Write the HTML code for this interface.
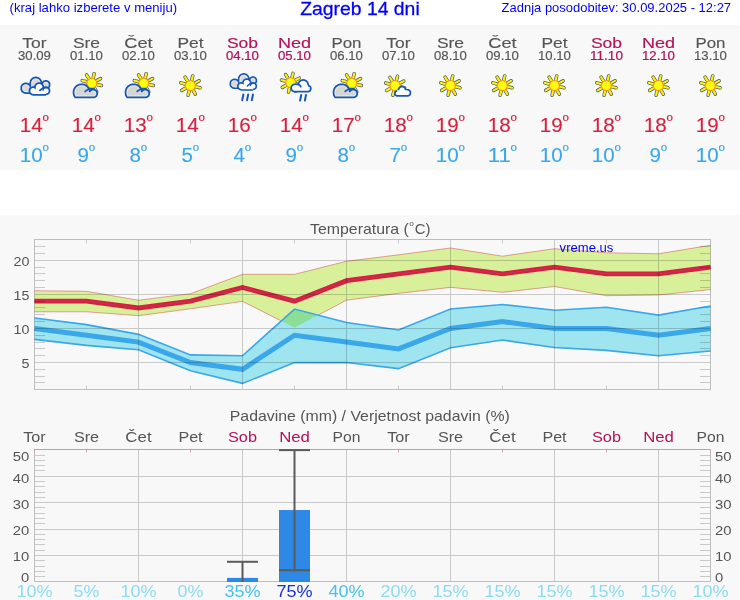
<!DOCTYPE html><html><head><meta charset="utf-8"><title>Zagreb 14 dni</title><style>html,body{margin:0;padding:0;background:#fff;}body{width:740px;height:600px;overflow:hidden;position:relative;font-family:"Liberation Sans", sans-serif;}svg{position:absolute;left:0;top:0;display:block;}</style></head><body>
<svg width="740" height="600" viewBox="0 0 740 600" font-family='"Liberation Sans", sans-serif'>
<rect x="0" y="25" width="740" height="145" fill="#f8f8f8"/>
<rect x="0" y="215" width="740" height="385" fill="#f8f8f8"/>
<text x="9.60" y="12.00" font-size="13.6" fill="#0000ff" textLength="167.5" lengthAdjust="spacingAndGlyphs">(kraj lahko izberete v meniju)</text>
<text x="300.20" y="15.20" font-size="19" fill="#0000ff" textLength="119.5" lengthAdjust="spacingAndGlyphs" stroke="#0000ff" stroke-width="0.3">Zagreb 14 dni</text>
<text x="501.60" y="11.80" font-size="13.6" fill="#0000ff" textLength="229.5" lengthAdjust="spacingAndGlyphs">Zadnja posodobitev: 30.09.2025 - 12:27</text>
<text x="34.50" y="47.80" font-size="15.5" fill="#555555" text-anchor="middle" textLength="24.28" lengthAdjust="spacingAndGlyphs" stroke="#555555" stroke-width="0.15">Tor</text>
<text x="34.50" y="59.80" font-size="12.2" fill="#555555" text-anchor="middle" textLength="32.91" lengthAdjust="spacingAndGlyphs" stroke="#555555" stroke-width="0.15">30.09</text>
<g transform="translate(34.50,0.00) scale(1.0)"><polygon points="-14.10,86.70 -13.90,86.10 -13.70,85.65 -13.50,85.29 -13.30,84.98 -13.10,84.70 -12.90,84.46 -12.70,84.24 -12.50,84.04 -12.30,83.86 -12.10,83.70 -11.90,83.55 -11.70,83.42 -11.50,83.29 -11.30,83.18 -11.10,83.08 -10.90,82.98 -10.70,82.90 -10.50,82.83 -10.30,82.76 -10.10,82.70 -9.90,82.65 -9.70,82.61 -9.50,82.57 -9.30,82.54 -9.10,82.52 -8.90,82.51 -8.70,82.50 -8.50,82.50 -8.30,82.51 -8.10,82.52 -7.90,82.54 -7.70,82.57 -7.50,82.61 -7.30,82.65 -7.10,82.70 -6.90,82.76 -6.70,82.83 -6.50,82.90 -6.30,82.98 -6.10,83.08 -5.90,83.18 -5.70,83.29 -5.50,83.42 -5.30,83.55 -5.10,83.05 -4.90,81.46 -4.70,80.81 -4.50,80.33 -4.30,79.94 -4.10,79.60 -3.90,79.30 -3.70,79.04 -3.50,78.80 -3.30,78.58 -3.10,78.38 -2.90,78.20 -2.70,78.03 -2.50,77.88 -2.30,77.73 -2.10,77.60 -1.90,77.48 -1.70,77.37 -1.50,77.26 -1.30,77.17 -1.10,77.08 -0.90,77.01 -0.70,76.93 -0.50,76.87 -0.30,76.81 -0.10,76.77 0.10,76.72 0.30,76.69 0.50,76.66 0.70,76.63 0.90,76.62 1.10,76.60 1.30,76.60 1.50,76.60 1.70,76.61 1.90,76.62 2.10,76.64 2.30,76.67 2.50,76.70 2.70,76.74 2.90,76.79 3.10,76.84 3.30,76.90 3.50,76.97 3.70,77.04 3.90,77.13 4.10,77.22 4.30,77.31 4.50,77.42 4.70,77.54 4.90,77.66 5.10,77.80 5.30,77.95 5.50,78.11 5.70,78.29 5.90,78.48 6.10,78.69 6.30,78.91 6.50,79.17 6.70,79.45 6.90,79.76 7.10,80.13 7.30,80.56 7.50,81.11 7.70,81.80 7.90,81.56 8.10,81.35 8.30,81.17 8.50,81.00 8.70,80.85 8.90,80.72 9.10,80.60 9.30,80.50 9.50,80.40 9.70,80.32 9.90,80.25 10.10,80.18 10.30,80.13 10.50,80.09 10.70,80.05 10.90,80.03 11.10,80.01 11.30,80.00 11.50,80.00 11.70,80.01 11.90,80.03 12.10,80.05 12.30,80.09 12.50,80.13 12.70,80.18 12.90,80.25 13.10,80.32 13.30,80.40 13.50,80.50 13.70,80.60 13.90,80.72 14.10,80.85 14.30,81.00 14.50,81.17 14.70,81.35 14.90,81.56 15.10,81.80 15.30,82.08 15.50,82.40 15.70,82.80 15.90,83.34 15.90,86.06 15.70,86.60 15.50,87.00 15.30,87.32 15.10,87.60 14.90,87.84 14.70,88.05 14.50,88.23 14.30,88.40 14.10,88.55 13.90,88.68 13.70,88.80 13.50,88.90 13.30,89.00 13.10,89.08 12.90,89.15 12.70,89.22 12.50,89.27 12.30,89.31 12.10,89.35 11.90,89.37 11.70,89.39 11.50,89.40 11.30,93.90 11.10,93.90 10.90,93.90 10.70,93.90 10.50,93.90 10.30,93.90 10.10,93.90 9.90,93.90 9.70,93.90 9.50,93.90 9.30,93.90 9.10,93.90 8.90,93.90 8.70,93.90 8.50,93.90 8.30,93.90 8.10,93.90 7.90,93.90 7.70,93.90 7.50,93.90 7.30,93.90 7.10,93.90 6.90,93.90 6.70,93.90 6.50,93.90 6.30,93.90 6.10,93.90 5.90,93.90 5.70,93.90 5.50,93.90 5.30,93.90 5.10,93.90 4.90,93.90 4.70,93.90 4.50,93.90 4.30,93.90 4.10,93.90 3.90,93.90 3.70,93.90 3.50,93.90 3.30,93.90 3.10,93.90 2.90,93.90 2.70,93.90 2.50,93.90 2.30,93.90 2.10,93.90 1.90,93.90 1.70,93.90 1.50,93.90 1.30,93.90 1.10,93.90 0.90,93.90 0.70,93.90 0.50,93.90 0.30,93.90 0.10,93.90 -0.10,93.90 -0.30,93.90 -0.50,93.90 -0.70,93.90 -0.90,93.90 -1.10,93.90 -1.30,93.90 -1.50,93.90 -1.70,93.90 -1.90,93.90 -2.10,93.90 -2.30,93.90 -2.50,93.90 -2.70,93.90 -2.90,93.90 -3.10,93.90 -3.30,93.90 -3.50,93.90 -3.70,93.90 -3.90,93.90 -4.10,93.90 -4.30,93.90 -4.50,93.90 -4.70,93.90 -4.90,93.90 -5.10,93.90 -5.30,93.90 -5.50,93.90 -5.70,93.90 -5.90,93.90 -6.10,93.90 -6.30,93.90 -6.50,93.90 -6.70,93.90 -6.90,93.90 -7.10,93.90 -7.30,93.90 -7.50,93.90 -7.70,93.90 -7.90,93.90 -8.10,93.90 -8.30,93.90 -8.50,93.90 -8.70,93.90 -8.90,93.89 -9.10,93.88 -9.30,93.86 -9.50,93.83 -9.70,93.79 -9.90,93.75 -10.10,93.70 -10.30,93.64 -10.50,93.57 -10.70,93.50 -10.90,93.42 -11.10,93.32 -11.30,93.22 -11.50,93.11 -11.70,92.98 -11.90,92.85 -12.10,92.70 -12.30,92.54 -12.50,92.36 -12.70,92.16 -12.90,91.94 -13.10,91.70 -13.30,91.42 -13.50,91.11 -13.70,90.75 -13.90,90.30 -14.10,89.70" fill="#1656b8"/><polygon points="-12.35,86.96 -12.15,86.46 -11.95,86.10 -11.75,85.81 -11.55,85.57 -11.35,85.36 -11.14,85.18 -10.94,85.02 -10.74,84.88 -10.54,84.76 -10.34,84.65 -10.14,84.56 -9.94,84.48 -9.74,84.42 -9.54,84.36 -9.34,84.32 -9.14,84.29 -8.94,84.26 -8.74,84.25 -8.54,84.25 -8.33,84.26 -8.13,84.28 -7.93,84.31 -7.73,84.35 -7.53,84.40 -7.33,84.46 -7.13,84.53 -6.93,84.62 -6.73,84.72 -6.53,84.84 -6.33,84.97 -6.13,85.12 -5.93,85.29 -5.72,85.49 -5.52,85.72 -5.32,85.99 -5.12,86.33 -4.92,86.76 -4.72,87.45 -4.52,88.00 -4.32,88.00 -4.12,88.00 -3.92,88.00 -3.72,88.00 -3.52,88.00 -3.32,82.48 -3.11,81.58 -2.91,81.07 -2.71,80.69 -2.51,80.37 -2.31,80.10 -2.11,79.87 -1.91,79.66 -1.71,79.48 -1.51,79.32 -1.31,79.17 -1.11,79.04 -0.91,78.93 -0.71,78.82 -0.51,78.73 -0.30,78.65 -0.10,78.58 0.10,78.52 0.30,78.47 0.50,78.43 0.70,78.40 0.90,78.37 1.10,78.36 1.30,78.35 1.50,78.35 1.70,78.36 1.90,78.38 2.10,78.41 2.31,78.45 2.51,78.49 2.71,78.55 2.91,78.62 3.11,78.69 3.31,78.78 3.51,78.88 3.71,78.99 3.91,79.11 4.11,79.25 4.31,79.40 4.51,79.57 4.71,79.77 4.91,79.99 5.12,80.24 5.32,80.53 5.52,80.88 5.72,81.31 5.92,81.95 6.12,88.00 6.32,88.00 6.52,88.00 6.72,88.00 6.92,88.00 7.12,88.00 7.32,88.00 7.52,88.00 7.73,88.00 7.93,88.00 8.13,88.00 8.33,88.00 8.53,84.02 8.73,83.45 8.93,83.09 9.13,82.82 9.33,82.60 9.53,82.42 9.73,82.27 9.93,82.14 10.13,82.04 10.34,81.95 10.54,81.88 10.74,81.83 10.94,81.79 11.14,81.76 11.34,81.75 11.54,81.75 11.74,81.77 11.94,81.80 12.14,81.84 12.34,81.90 12.54,81.98 12.74,82.07 12.94,82.19 13.15,82.32 13.35,82.48 13.55,82.68 13.75,82.91 13.95,83.21 14.15,83.63 14.15,85.77 13.95,86.19 13.75,86.49 13.55,86.72 13.35,86.92 13.15,87.08 12.94,87.21 12.74,87.33 12.54,87.42 12.34,87.50 12.14,87.56 11.94,87.60 11.74,87.63 11.54,87.65 11.34,92.15 11.14,92.15 10.94,92.15 10.74,92.15 10.54,92.15 10.34,92.15 10.13,92.15 9.93,92.15 9.73,92.15 9.53,92.15 9.33,92.15 9.13,92.15 8.93,92.15 8.73,92.15 8.53,92.15 8.33,92.15 8.13,92.15 7.93,92.15 7.73,92.15 7.52,92.15 7.32,92.15 7.12,92.15 6.92,92.15 6.72,92.15 6.52,92.15 6.32,92.15 6.12,92.15 5.92,92.15 5.72,92.15 5.52,92.15 5.32,92.15 5.12,92.15 4.91,92.15 4.71,92.15 4.51,92.15 4.31,92.15 4.11,92.15 3.91,92.15 3.71,92.15 3.51,92.15 3.31,92.15 3.11,92.15 2.91,92.15 2.71,92.15 2.51,92.15 2.31,92.15 2.10,92.15 1.90,92.15 1.70,92.15 1.50,92.15 1.30,92.15 1.10,92.15 0.90,92.15 0.70,92.15 0.50,92.15 0.30,92.15 0.10,92.15 -0.10,92.15 -0.30,92.15 -0.51,92.15 -0.71,92.15 -0.91,92.15 -1.11,92.15 -1.31,92.15 -1.51,92.15 -1.71,92.15 -1.91,92.15 -2.11,92.15 -2.31,92.15 -2.51,92.15 -2.71,92.15 -2.91,92.15 -3.11,92.15 -3.32,92.15 -3.52,92.15 -3.72,92.15 -3.92,92.15 -4.12,92.15 -4.32,92.15 -4.52,92.15 -4.72,92.15 -4.92,92.15 -5.12,92.15 -5.32,92.15 -5.52,92.15 -5.72,92.15 -5.93,92.15 -6.13,92.15 -6.33,92.15 -6.53,92.15 -6.73,92.15 -6.93,92.15 -7.13,92.15 -7.33,92.15 -7.53,92.15 -7.73,92.15 -7.93,92.15 -8.13,92.15 -8.33,92.15 -8.54,92.15 -8.74,92.15 -8.94,92.14 -9.14,92.11 -9.34,92.08 -9.54,92.04 -9.74,91.98 -9.94,91.92 -10.14,91.84 -10.34,91.75 -10.54,91.64 -10.74,91.52 -10.94,91.38 -11.14,91.22 -11.35,91.04 -11.55,90.83 -11.75,90.59 -11.95,90.30 -12.15,89.94 -12.35,89.44" fill="#f3ecdc"/><polygon points="-11.35,87.13 -11.15,86.71 -10.95,86.41 -10.75,86.18 -10.55,85.98 -10.35,85.82 -10.14,85.69 -9.94,85.57 -9.74,85.48 -9.54,85.40 -9.34,85.34 -9.14,85.30 -8.94,85.27 -8.74,85.25 -8.54,85.25 -8.34,85.26 -8.14,85.29 -7.94,85.33 -7.73,85.38 -7.53,85.45 -7.33,85.54 -7.13,85.64 -6.93,85.77 -6.73,85.92 -6.53,86.10 -6.33,86.32 -6.13,86.59 -5.93,86.95 -5.73,87.53 -5.53,88.00 -5.33,88.00 -5.12,88.00 -4.92,88.00 -4.72,88.00 -4.52,88.00 -4.32,88.00 -4.12,88.00 -3.92,88.00 -3.72,88.00 -3.52,88.00 -3.32,88.00 -3.12,88.00 -2.92,88.00 -2.71,88.00 -2.51,88.00 -2.31,82.53 -2.11,81.74 -1.91,81.30 -1.71,80.97 -1.51,80.70 -1.31,80.48 -1.11,80.28 -0.91,80.12 -0.71,79.97 -0.51,79.85 -0.30,79.74 -0.10,79.65 0.10,79.57 0.30,79.50 0.50,79.45 0.70,79.41 0.90,79.38 1.10,79.36 1.30,79.35 1.50,79.35 1.70,79.37 1.90,79.39 2.10,79.43 2.31,79.48 2.51,79.54 2.71,79.61 2.91,79.69 3.11,79.79 3.31,79.91 3.51,80.05 3.71,80.20 3.91,80.38 4.11,80.59 4.31,80.83 4.51,81.13 4.72,81.51 4.92,82.06 5.12,88.00 5.32,88.00 5.52,88.00 5.72,88.00 5.92,88.00 6.12,88.00 6.32,88.00 6.52,88.00 6.72,88.00 6.92,88.00 7.12,88.00 7.33,88.00 7.53,88.00 7.73,88.00 7.93,88.00 8.13,88.00 8.33,88.00 8.53,88.00 8.73,88.00 8.93,88.00 9.13,88.00 9.33,88.00 9.53,84.13 9.74,83.68 9.94,83.41 10.14,83.21 10.34,83.06 10.54,82.95 10.74,82.87 10.94,82.80 11.14,82.77 11.34,82.75 11.54,82.76 11.74,82.78 11.94,82.83 12.15,82.90 12.35,82.99 12.55,83.12 12.75,83.29 12.95,83.51 13.15,83.84 13.15,85.56 12.95,85.89 12.75,86.11 12.55,86.28 12.35,86.41 12.15,86.50 11.94,86.57 11.74,86.62 11.54,86.64 11.34,91.15 11.14,91.15 10.94,91.15 10.74,91.15 10.54,91.15 10.34,91.15 10.14,91.15 9.94,91.15 9.74,91.15 9.53,91.15 9.33,91.15 9.13,91.15 8.93,91.15 8.73,91.15 8.53,91.15 8.33,91.15 8.13,91.15 7.93,91.15 7.73,91.15 7.53,91.15 7.33,91.15 7.12,91.15 6.92,91.15 6.72,91.15 6.52,91.15 6.32,91.15 6.12,91.15 5.92,91.15 5.72,91.15 5.52,91.15 5.32,91.15 5.12,91.15 4.92,91.15 4.72,91.15 4.51,91.15 4.31,91.15 4.11,91.15 3.91,91.15 3.71,91.15 3.51,91.15 3.31,91.15 3.11,91.15 2.91,91.15 2.71,91.15 2.51,91.15 2.31,91.15 2.10,91.15 1.90,91.15 1.70,91.15 1.50,91.15 1.30,91.15 1.10,91.15 0.90,91.15 0.70,91.15 0.50,91.15 0.30,91.15 0.10,91.15 -0.10,91.15 -0.30,91.15 -0.51,91.15 -0.71,91.15 -0.91,91.15 -1.11,91.15 -1.31,91.15 -1.51,91.15 -1.71,91.15 -1.91,91.15 -2.11,91.15 -2.31,91.15 -2.51,91.15 -2.71,91.15 -2.92,91.15 -3.12,91.15 -3.32,91.15 -3.52,91.15 -3.72,91.15 -3.92,91.15 -4.12,91.15 -4.32,91.15 -4.52,91.15 -4.72,91.15 -4.92,91.15 -5.12,91.15 -5.33,91.15 -5.53,91.15 -5.73,91.15 -5.93,91.15 -6.13,91.15 -6.33,91.15 -6.53,91.15 -6.73,91.15 -6.93,91.15 -7.13,91.15 -7.33,91.15 -7.53,91.15 -7.73,91.15 -7.94,91.15 -8.14,91.15 -8.34,91.15 -8.54,91.15 -8.74,91.15 -8.94,91.13 -9.14,91.10 -9.34,91.06 -9.54,91.00 -9.74,90.92 -9.94,90.83 -10.14,90.71 -10.35,90.58 -10.55,90.42 -10.75,90.22 -10.95,89.99 -11.15,89.69 -11.35,89.27" fill="#d9d9d9"/><polygon points="-6.00,90.90 -5.80,89.56 -5.60,89.02 -5.40,88.62 -5.20,88.30 -5.00,88.03 -4.79,87.80 -4.59,87.59 -4.39,87.41 -4.19,87.24 -3.99,87.10 -3.79,86.97 -3.59,86.85 -3.39,86.75 -3.19,86.66 -2.99,86.58 -2.79,86.51 -2.58,86.46 -2.38,86.41 -2.18,86.37 -1.98,86.34 -1.78,86.32 -1.58,86.30 -1.38,86.30 -1.18,86.31 -0.98,86.32 -0.78,86.34 -0.58,86.37 -0.37,86.27 -0.17,85.60 0.03,85.13 0.23,84.76 0.43,84.45 0.63,84.18 0.83,83.94 1.03,83.73 1.23,83.55 1.43,83.38 1.63,83.22 1.84,83.09 2.04,82.96 2.24,82.85 2.44,82.75 2.64,82.66 2.84,82.58 3.04,82.51 3.24,82.45 3.44,82.39 3.64,82.35 3.84,82.31 4.05,82.29 4.25,82.27 4.45,82.25 4.65,82.25 4.85,82.25 5.05,82.27 5.25,82.29 5.45,82.31 5.65,82.35 5.85,82.39 6.06,82.45 6.26,82.51 6.46,82.58 6.66,82.66 6.86,82.75 7.06,82.85 7.26,82.96 7.46,83.09 7.66,83.22 7.86,83.38 8.06,83.54 8.27,83.73 8.47,83.94 8.67,84.18 8.87,84.45 9.07,84.75 9.27,85.12 9.47,85.59 9.67,86.26 9.87,86.86 10.07,86.78 10.27,86.71 10.48,86.65 10.68,86.60 10.88,86.56 11.08,86.53 11.28,86.51 11.48,86.50 11.68,86.50 11.88,86.51 12.08,86.53 12.28,86.55 12.48,86.59 12.69,86.64 12.89,86.70 13.09,86.77 13.29,86.85 13.49,86.94 13.69,87.04 13.89,87.16 14.09,87.30 14.29,87.45 14.49,87.62 14.69,87.81 14.90,88.04 15.10,88.30 15.30,88.60 15.50,88.98 15.70,89.50 15.90,90.80 15.90,90.80 15.70,92.10 15.50,92.62 15.30,93.00 15.10,93.30 14.90,93.56 14.69,93.79 14.49,93.98 14.29,94.15 14.09,94.30 13.89,94.44 13.69,94.56 13.49,94.66 13.29,94.75 13.09,94.83 12.89,94.90 12.69,94.96 12.48,95.01 12.28,95.05 12.08,95.07 11.88,95.09 11.68,95.10 11.48,95.80 11.28,95.80 11.08,95.80 10.88,95.80 10.68,95.80 10.48,95.80 10.27,95.80 10.07,95.80 9.87,95.80 9.67,95.80 9.47,95.80 9.27,95.80 9.07,95.80 8.87,95.80 8.67,95.80 8.47,95.80 8.27,95.80 8.06,95.80 7.86,95.80 7.66,95.80 7.46,95.80 7.26,95.80 7.06,95.80 6.86,95.80 6.66,95.80 6.46,95.80 6.26,95.80 6.06,95.80 5.85,95.80 5.65,95.80 5.45,95.80 5.25,95.80 5.05,95.80 4.85,95.80 4.65,95.80 4.45,95.80 4.25,95.80 4.05,95.80 3.84,95.80 3.64,95.80 3.44,95.80 3.24,95.80 3.04,95.80 2.84,95.80 2.64,95.80 2.44,95.80 2.24,95.80 2.04,95.80 1.84,95.80 1.63,95.80 1.43,95.80 1.23,95.80 1.03,95.80 0.83,95.80 0.63,95.80 0.43,95.80 0.23,95.80 0.03,95.80 -0.17,95.80 -0.37,95.80 -0.58,95.80 -0.78,95.80 -0.98,95.80 -1.18,95.80 -1.38,95.80 -1.58,95.50 -1.78,95.48 -1.98,95.46 -2.18,95.43 -2.38,95.39 -2.58,95.34 -2.79,95.29 -2.99,95.22 -3.19,95.14 -3.39,95.05 -3.59,94.95 -3.79,94.83 -3.99,94.70 -4.19,94.56 -4.39,94.39 -4.59,94.21 -4.79,94.00 -5.00,93.77 -5.20,93.50 -5.40,93.18 -5.60,92.78 -5.80,92.24 -6.00,90.90" fill="#1656b8"/><polygon points="-4.05,89.85 -3.85,89.44 -3.64,89.14 -3.44,88.91 -3.24,88.72 -3.04,88.57 -2.83,88.44 -2.63,88.33 -2.43,88.24 -2.23,88.17 -2.03,88.12 -1.82,88.08 -1.62,88.06 -1.42,88.05 -1.22,88.06 -1.01,88.08 -0.81,88.11 -0.61,88.16 -0.41,88.23 -0.21,88.31 -0.00,88.42 0.20,88.54 0.40,88.69 0.60,88.87 0.80,89.09 1.01,89.37 1.21,89.75 1.41,86.36 1.61,85.87 1.82,85.52 2.02,85.25 2.22,85.02 2.42,84.83 2.62,84.67 2.83,84.53 3.03,84.41 3.23,84.31 3.43,84.23 3.64,84.15 3.84,84.10 4.04,84.06 4.24,84.02 4.44,84.01 4.65,84.00 4.85,84.01 5.05,84.02 5.25,84.05 5.46,84.10 5.66,84.15 5.86,84.22 6.06,84.31 6.26,84.41 6.47,84.53 6.67,84.66 6.87,84.83 7.07,85.01 7.28,85.24 7.48,85.51 7.68,85.86 7.88,86.34 8.08,91.00 8.29,91.00 8.49,91.00 8.69,91.00 8.89,91.00 9.10,90.32 9.30,89.70 9.50,89.35 9.70,89.10 9.90,88.90 10.11,88.73 10.31,88.60 10.51,88.49 10.71,88.41 10.91,88.34 11.12,88.30 11.32,88.27 11.52,88.25 11.72,88.25 11.93,88.27 12.13,88.31 12.33,88.36 12.53,88.43 12.73,88.52 12.94,88.63 13.14,88.77 13.34,88.94 13.54,89.15 13.75,89.42 13.95,89.80 14.15,90.80 14.15,90.80 13.95,91.80 13.75,92.18 13.54,92.45 13.34,92.66 13.14,92.83 12.94,92.97 12.73,93.08 12.53,93.17 12.33,93.24 12.13,93.29 11.93,93.33 11.72,93.35 11.52,94.05 11.32,94.05 11.12,94.05 10.91,94.05 10.71,94.05 10.51,94.05 10.31,94.05 10.11,94.05 9.90,94.05 9.70,94.05 9.50,94.05 9.30,94.05 9.10,94.05 8.89,94.05 8.69,94.05 8.49,94.05 8.29,94.05 8.08,94.05 7.88,94.05 7.68,94.05 7.48,94.05 7.28,94.05 7.07,94.05 6.87,94.05 6.67,94.05 6.47,94.05 6.26,94.05 6.06,94.05 5.86,94.05 5.66,94.05 5.46,94.05 5.25,94.05 5.05,94.05 4.85,94.05 4.65,94.05 4.44,94.05 4.24,94.05 4.04,94.05 3.84,94.05 3.64,94.05 3.43,94.05 3.23,94.05 3.03,94.05 2.83,94.05 2.62,94.05 2.42,94.05 2.22,94.05 2.02,94.05 1.82,94.05 1.61,94.05 1.41,94.05 1.21,94.05 1.01,94.05 0.80,94.05 0.60,94.05 0.40,94.05 0.20,94.05 -0.00,94.05 -0.21,94.05 -0.41,94.05 -0.61,94.05 -0.81,94.05 -1.01,94.05 -1.22,94.05 -1.42,93.75 -1.62,93.74 -1.82,93.72 -2.03,93.68 -2.23,93.63 -2.43,93.56 -2.63,93.47 -2.83,93.36 -3.04,93.23 -3.24,93.08 -3.44,92.89 -3.64,92.66 -3.85,92.36 -4.05,91.95" fill="#ffffff"/><path d="M5.4,90.4 Q8.8,86.9 12.9,87.6" fill="none" stroke="#1656b8" stroke-width="1.75" stroke-linecap="round"/></g>
<text x="19.78" y="131.90" font-size="19.5" fill="#d6223f" textLength="22.91" lengthAdjust="spacingAndGlyphs" stroke="#d6223f" stroke-width="0.12">14</text>
<text x="42.59" y="120.70" font-size="10.6" fill="#d6223f" textLength="6.42" lengthAdjust="spacingAndGlyphs" stroke="#d6223f" stroke-width="0.2">o</text>
<text x="19.78" y="162.00" font-size="19.5" fill="#3aa7ea" textLength="22.91" lengthAdjust="spacingAndGlyphs" stroke="#3aa7ea" stroke-width="0.12">10</text>
<text x="42.59" y="150.80" font-size="10.6" fill="#3aa7ea" textLength="6.42" lengthAdjust="spacingAndGlyphs" stroke="#3aa7ea" stroke-width="0.2">o</text>
<text x="86.50" y="47.80" font-size="15.5" fill="#555555" text-anchor="middle" textLength="27.18" lengthAdjust="spacingAndGlyphs" stroke="#555555" stroke-width="0.15">Sre</text>
<text x="86.50" y="59.80" font-size="12.2" fill="#555555" text-anchor="middle" textLength="32.91" lengthAdjust="spacingAndGlyphs" stroke="#555555" stroke-width="0.15">01.10</text>
<g transform="translate(91.80,83.30)"><line x1="1.11" y1="-4.46" x2="2.40" y2="-9.61" stroke="#4a4a66" stroke-width="3.5" stroke-linecap="round"/><line x1="4.06" y1="-2.16" x2="8.74" y2="-4.65" stroke="#4a4a66" stroke-width="3.5" stroke-linecap="round"/><line x1="4.48" y1="1.03" x2="9.65" y2="2.23" stroke="#4a4a66" stroke-width="3.5" stroke-linecap="round"/><line x1="2.30" y1="3.98" x2="4.95" y2="8.57" stroke="#4a4a66" stroke-width="3.5" stroke-linecap="round"/><line x1="-1.03" y1="4.48" x2="-2.23" y2="9.65" stroke="#4a4a66" stroke-width="3.5" stroke-linecap="round"/><line x1="-4.02" y1="2.23" x2="-8.66" y2="4.80" stroke="#4a4a66" stroke-width="3.5" stroke-linecap="round"/><line x1="-4.42" y1="-1.27" x2="-9.52" y2="-2.73" stroke="#4a4a66" stroke-width="3.5" stroke-linecap="round"/><line x1="-2.44" y1="-3.90" x2="-5.25" y2="-8.40" stroke="#4a4a66" stroke-width="3.5" stroke-linecap="round"/><line x1="1.11" y1="-4.46" x2="2.40" y2="-9.61" stroke="#f6f600" stroke-width="2.2" stroke-linecap="round"/><line x1="4.06" y1="-2.16" x2="8.74" y2="-4.65" stroke="#f6f600" stroke-width="2.2" stroke-linecap="round"/><line x1="4.48" y1="1.03" x2="9.65" y2="2.23" stroke="#f6f600" stroke-width="2.2" stroke-linecap="round"/><line x1="2.30" y1="3.98" x2="4.95" y2="8.57" stroke="#f6f600" stroke-width="2.2" stroke-linecap="round"/><line x1="-1.03" y1="4.48" x2="-2.23" y2="9.65" stroke="#f6f600" stroke-width="2.2" stroke-linecap="round"/><line x1="-4.02" y1="2.23" x2="-8.66" y2="4.80" stroke="#f6f600" stroke-width="2.2" stroke-linecap="round"/><line x1="-4.42" y1="-1.27" x2="-9.52" y2="-2.73" stroke="#f6f600" stroke-width="2.2" stroke-linecap="round"/><line x1="-2.44" y1="-3.90" x2="-5.25" y2="-8.40" stroke="#f6f600" stroke-width="2.2" stroke-linecap="round"/><circle r="5.00" fill="#ffee00" stroke="#f39a1a" stroke-width="1.1"/><circle r="3.90" fill="#ffff10"/></g><g transform="translate(86.50,0)"><polygon points="-13.90,92.40 -13.70,90.51 -13.50,89.74 -13.30,89.16 -13.10,88.68 -12.90,88.27 -12.70,87.90 -12.49,87.57 -12.29,87.27 -12.09,86.99 -11.89,86.73 -11.69,86.49 -11.49,86.27 -11.29,86.06 -11.09,85.87 -10.89,85.68 -10.69,85.51 -10.49,85.34 -10.29,85.19 -10.09,85.04 -9.88,84.91 -9.68,84.78 -9.48,84.65 -9.28,84.54 -9.08,84.43 -8.88,84.33 -8.68,84.23 -8.48,84.14 -8.28,84.06 -8.08,83.98 -7.88,83.91 -7.68,83.84 -7.47,83.78 -7.27,83.72 -7.07,83.67 -6.87,83.62 -6.67,83.58 -6.47,83.54 -6.27,83.50 -6.07,83.48 -5.87,83.45 -5.67,83.43 -5.47,83.42 -5.27,83.41 -5.07,83.40 -4.86,83.40 -4.66,83.40 -4.46,83.41 -4.26,83.42 -4.06,83.44 -3.86,83.46 -3.66,83.49 -3.46,83.52 -3.26,83.55 -3.06,83.59 -2.86,83.64 -2.66,83.68 -2.46,83.74 -2.25,83.80 -2.05,83.86 -1.85,83.93 -1.65,84.01 -1.45,84.09 -1.25,84.17 -1.05,84.27 -0.85,84.36 -0.65,84.47 -0.45,84.58 -0.25,84.70 -0.05,84.82 0.16,84.95 0.36,85.09 0.56,85.24 0.76,85.40 0.96,85.57 1.16,85.75 1.36,85.93 1.56,86.13 1.76,86.35 1.96,86.58 2.16,86.82 2.36,87.09 2.56,87.37 2.77,87.68 2.97,88.03 3.17,88.41 3.37,88.84 3.57,89.35 3.77,89.78 3.97,89.62 4.17,89.48 4.37,89.36 4.57,89.25 4.77,89.15 4.97,89.06 5.17,88.98 5.38,88.92 5.58,88.86 5.78,88.81 5.98,88.77 6.18,88.74 6.38,88.72 6.58,88.71 6.78,88.70 6.98,88.70 7.18,88.72 7.38,88.74 7.58,88.76 7.79,88.80 7.99,88.85 8.19,88.90 8.39,88.97 8.59,89.05 8.79,89.13 8.99,89.23 9.19,89.34 9.39,89.46 9.59,89.60 9.79,89.75 9.99,89.92 10.19,90.11 10.40,90.32 10.60,90.56 10.80,90.84 11.00,91.17 11.20,91.58 11.40,92.13 11.60,93.50 11.60,93.50 11.40,94.87 11.20,95.42 11.00,95.83 10.80,96.16 10.60,96.44 10.40,96.68 10.19,96.89 9.99,97.08 9.79,97.25 9.59,97.40 9.39,97.54 9.19,97.66 8.99,97.77 8.79,97.87 8.59,97.95 8.39,98.03 8.19,98.10 7.99,98.15 7.79,98.20 7.58,98.24 7.38,98.26 7.18,98.28 6.98,98.30 6.78,98.30 6.58,98.30 6.38,98.30 6.18,98.30 5.98,98.30 5.78,98.30 5.58,98.30 5.38,98.30 5.17,98.30 4.97,98.30 4.77,98.30 4.57,98.30 4.37,98.30 4.17,98.30 3.97,98.30 3.77,98.30 3.57,98.30 3.37,98.30 3.17,98.30 2.97,98.30 2.77,98.30 2.56,98.30 2.36,98.30 2.16,98.30 1.96,98.30 1.76,98.30 1.56,98.30 1.36,98.30 1.16,98.30 0.96,98.30 0.76,98.30 0.56,98.30 0.36,98.30 0.16,98.30 -0.05,98.30 -0.25,98.30 -0.45,98.30 -0.65,98.30 -0.85,98.30 -1.05,98.30 -1.25,98.30 -1.45,98.30 -1.65,98.30 -1.85,98.30 -2.05,98.30 -2.25,98.30 -2.46,98.30 -2.66,98.30 -2.86,98.30 -3.06,98.30 -3.26,98.30 -3.46,98.30 -3.66,98.30 -3.86,98.30 -4.06,98.30 -4.26,98.30 -4.46,98.30 -4.66,98.30 -4.86,98.30 -5.07,98.30 -5.27,98.30 -5.47,98.30 -5.67,98.30 -5.87,98.30 -6.07,98.30 -6.27,98.30 -6.47,98.30 -6.67,98.30 -6.87,98.30 -7.07,98.30 -7.27,98.30 -7.47,98.30 -7.68,98.30 -7.88,98.30 -8.08,98.30 -8.28,98.30 -8.48,98.30 -8.68,98.30 -8.88,98.30 -9.08,98.30 -9.28,98.30 -9.48,98.30 -9.68,98.30 -9.88,98.30 -10.09,98.30 -10.29,98.30 -10.49,98.30 -10.69,98.30 -10.89,98.30 -11.09,98.30 -11.29,98.30 -11.49,98.30 -11.69,98.30 -11.89,98.07 -12.09,97.81 -12.29,97.53 -12.49,97.23 -12.70,96.90 -12.90,96.53 -13.10,96.12 -13.30,95.64 -13.50,95.06 -13.70,94.29 -13.90,92.40" fill="#1656b8"/><polygon points="-12.15,92.40 -11.95,90.71 -11.75,90.03 -11.55,89.51 -11.35,89.09 -11.15,88.73 -10.95,88.41 -10.75,88.12 -10.55,87.86 -10.35,87.62 -10.15,87.40 -9.95,87.20 -9.75,87.01 -9.55,86.84 -9.35,86.68 -9.15,86.53 -8.95,86.39 -8.75,86.26 -8.55,86.14 -8.35,86.02 -8.15,85.92 -7.95,85.82 -7.75,85.73 -7.55,85.65 -7.35,85.58 -7.15,85.51 -6.95,85.45 -6.75,85.39 -6.55,85.34 -6.35,85.30 -6.15,85.26 -5.95,85.23 -5.75,85.20 -5.55,85.18 -5.35,85.16 -5.15,85.15 -4.95,85.15 -4.75,85.15 -4.55,85.16 -4.35,85.17 -4.15,85.19 -3.95,85.21 -3.75,85.24 -3.55,85.28 -3.35,85.32 -3.15,85.36 -2.95,85.42 -2.75,85.48 -2.55,85.54 -2.35,85.61 -2.15,85.69 -1.95,85.78 -1.75,85.87 -1.55,85.97 -1.35,86.08 -1.15,86.20 -0.95,86.32 -0.75,86.46 -0.55,86.60 -0.35,86.76 -0.15,86.92 0.05,87.10 0.25,87.30 0.45,87.51 0.65,87.74 0.85,87.98 1.05,88.26 1.25,88.56 1.45,88.90 1.65,89.29 1.85,89.75 2.05,90.34 2.25,91.20 2.45,92.40 2.65,92.40 2.85,92.40 3.05,92.40 3.25,92.40 3.45,92.40 3.65,92.40 3.85,92.40 4.05,92.18 4.25,91.83 4.45,91.56 4.65,91.34 4.85,91.15 5.05,91.00 5.25,90.87 5.45,90.77 5.65,90.68 5.85,90.60 6.05,90.54 6.25,90.50 6.45,90.47 6.65,90.45 6.85,90.45 7.05,90.46 7.25,90.48 7.45,90.52 7.65,90.57 7.85,90.64 8.05,90.72 8.25,90.82 8.45,90.93 8.65,91.08 8.85,91.24 9.05,91.44 9.25,91.68 9.45,91.99 9.65,92.41 9.85,93.50 9.85,93.50 9.65,94.59 9.45,95.01 9.25,95.32 9.05,95.56 8.85,95.76 8.65,95.92 8.45,96.07 8.25,96.18 8.05,96.28 7.85,96.36 7.65,96.43 7.45,96.48 7.25,96.52 7.05,96.54 6.85,96.55 6.65,96.55 6.45,96.55 6.25,96.55 6.05,96.55 5.85,96.55 5.65,96.55 5.45,96.55 5.25,96.55 5.05,96.55 4.85,96.55 4.65,96.55 4.45,96.55 4.25,96.55 4.05,96.55 3.85,96.55 3.65,96.55 3.45,96.55 3.25,96.55 3.05,96.55 2.85,96.55 2.65,96.55 2.45,96.55 2.25,96.55 2.05,96.55 1.85,96.55 1.65,96.55 1.45,96.55 1.25,96.55 1.05,96.55 0.85,96.55 0.65,96.55 0.45,96.55 0.25,96.55 0.05,96.55 -0.15,96.55 -0.35,96.55 -0.55,96.55 -0.75,96.55 -0.95,96.55 -1.15,96.55 -1.35,96.55 -1.55,96.55 -1.75,96.55 -1.95,96.55 -2.15,96.55 -2.35,96.55 -2.55,96.55 -2.75,96.55 -2.95,96.55 -3.15,96.55 -3.35,96.55 -3.55,96.55 -3.75,96.55 -3.95,96.55 -4.15,96.55 -4.35,96.55 -4.55,96.55 -4.75,96.55 -4.95,96.55 -5.15,96.55 -5.35,96.55 -5.55,96.55 -5.75,96.55 -5.95,96.55 -6.15,96.55 -6.35,96.55 -6.55,96.55 -6.75,96.55 -6.95,96.55 -7.15,96.55 -7.35,96.55 -7.55,96.55 -7.75,96.55 -7.95,96.55 -8.15,96.55 -8.35,96.55 -8.55,96.55 -8.75,96.55 -8.95,96.55 -9.15,96.55 -9.35,96.55 -9.55,96.55 -9.75,96.55 -9.95,96.55 -10.15,96.55 -10.35,96.55 -10.55,96.55 -10.75,96.55 -10.95,96.39 -11.15,96.07 -11.35,95.71 -11.55,95.29 -11.75,94.77 -11.95,94.09 -12.15,92.40" fill="#f3ecdc"/><polygon points="-11.15,92.40 -10.95,90.83 -10.75,90.20 -10.55,89.73 -10.35,89.34 -10.15,89.01 -9.95,88.72 -9.75,88.46 -9.55,88.22 -9.35,88.01 -9.15,87.82 -8.95,87.64 -8.75,87.48 -8.55,87.33 -8.35,87.19 -8.15,87.06 -7.95,86.94 -7.75,86.84 -7.55,86.74 -7.35,86.65 -7.15,86.57 -6.95,86.50 -6.75,86.43 -6.55,86.37 -6.35,86.32 -6.15,86.28 -5.95,86.24 -5.75,86.21 -5.55,86.18 -5.35,86.17 -5.15,86.16 -4.95,86.15 -4.75,86.15 -4.55,86.16 -4.35,86.17 -4.15,86.20 -3.95,86.22 -3.75,86.26 -3.55,86.30 -3.35,86.35 -3.15,86.40 -2.95,86.46 -2.75,86.53 -2.55,86.61 -2.35,86.69 -2.15,86.79 -1.95,86.89 -1.75,87.00 -1.55,87.12 -1.35,87.26 -1.15,87.40 -0.95,87.56 -0.75,87.73 -0.55,87.91 -0.35,88.12 -0.15,88.34 0.05,88.58 0.25,88.86 0.45,89.17 0.65,89.53 0.85,89.95 1.05,90.49 1.25,91.29 1.45,92.40 1.65,92.40 1.85,92.40 2.05,92.40 2.25,92.40 2.45,92.40 2.65,92.40 2.85,92.40 3.05,92.40 3.25,92.40 3.45,92.40 3.65,92.40 3.85,92.40 4.05,92.40 4.25,92.40 4.45,92.40 4.65,92.40 4.85,92.40 5.05,92.40 5.25,92.16 5.45,91.96 5.65,91.80 5.85,91.68 6.05,91.59 6.25,91.53 6.45,91.48 6.65,91.46 6.85,91.45 7.05,91.47 7.25,91.50 7.45,91.56 7.65,91.63 7.85,91.74 8.05,91.88 8.25,92.05 8.45,92.28 8.65,92.62 8.85,93.50 8.85,93.50 8.65,94.38 8.45,94.72 8.25,94.95 8.05,95.12 7.85,95.26 7.65,95.37 7.45,95.44 7.25,95.50 7.05,95.53 6.85,95.55 6.65,95.55 6.45,95.55 6.25,95.55 6.05,95.55 5.85,95.55 5.65,95.55 5.45,95.55 5.25,95.55 5.05,95.55 4.85,95.55 4.65,95.55 4.45,95.55 4.25,95.55 4.05,95.55 3.85,95.55 3.65,95.55 3.45,95.55 3.25,95.55 3.05,95.55 2.85,95.55 2.65,95.55 2.45,95.55 2.25,95.55 2.05,95.55 1.85,95.55 1.65,95.55 1.45,95.55 1.25,95.55 1.05,95.55 0.85,95.55 0.65,95.55 0.45,95.55 0.25,95.55 0.05,95.55 -0.15,95.55 -0.35,95.55 -0.55,95.55 -0.75,95.55 -0.95,95.55 -1.15,95.55 -1.35,95.55 -1.55,95.55 -1.75,95.55 -1.95,95.55 -2.15,95.55 -2.35,95.55 -2.55,95.55 -2.75,95.55 -2.95,95.55 -3.15,95.55 -3.35,95.55 -3.55,95.55 -3.75,95.55 -3.95,95.55 -4.15,95.55 -4.35,95.55 -4.55,95.55 -4.75,95.55 -4.95,95.55 -5.15,95.55 -5.35,95.55 -5.55,95.55 -5.75,95.55 -5.95,95.55 -6.15,95.55 -6.35,95.55 -6.55,95.55 -6.75,95.55 -6.95,95.55 -7.15,95.55 -7.35,95.55 -7.55,95.55 -7.75,95.55 -7.95,95.55 -8.15,95.55 -8.35,95.55 -8.55,95.55 -8.75,95.55 -8.95,95.55 -9.15,95.55 -9.35,95.55 -9.55,95.55 -9.75,95.55 -9.95,95.55 -10.15,95.55 -10.35,95.46 -10.55,95.07 -10.75,94.60 -10.95,93.97 -11.15,92.40" fill="#d6d6d6"/><path d="M-1.3,91.3 Q2.5,87.8 7.7,89.0" fill="none" stroke="#1656b8" stroke-width="1.75" stroke-linecap="round"/></g>
<text x="71.78" y="131.90" font-size="19.5" fill="#d6223f" textLength="22.91" lengthAdjust="spacingAndGlyphs" stroke="#d6223f" stroke-width="0.12">14</text>
<text x="94.59" y="120.70" font-size="10.6" fill="#d6223f" textLength="6.42" lengthAdjust="spacingAndGlyphs" stroke="#d6223f" stroke-width="0.2">o</text>
<text x="77.51" y="162.00" font-size="19.5" fill="#3aa7ea" textLength="11.45" lengthAdjust="spacingAndGlyphs" stroke="#3aa7ea" stroke-width="0.12">9</text>
<text x="88.86" y="150.80" font-size="10.6" fill="#3aa7ea" textLength="6.42" lengthAdjust="spacingAndGlyphs" stroke="#3aa7ea" stroke-width="0.2">o</text>
<text x="138.50" y="47.80" font-size="15.5" fill="#555555" text-anchor="middle" textLength="28.29" lengthAdjust="spacingAndGlyphs" stroke="#555555" stroke-width="0.15">Čet</text>
<text x="138.50" y="59.80" font-size="12.2" fill="#555555" text-anchor="middle" textLength="32.91" lengthAdjust="spacingAndGlyphs" stroke="#555555" stroke-width="0.15">02.10</text>
<g transform="translate(143.80,83.30)"><line x1="1.11" y1="-4.46" x2="2.40" y2="-9.61" stroke="#4a4a66" stroke-width="3.5" stroke-linecap="round"/><line x1="4.06" y1="-2.16" x2="8.74" y2="-4.65" stroke="#4a4a66" stroke-width="3.5" stroke-linecap="round"/><line x1="4.48" y1="1.03" x2="9.65" y2="2.23" stroke="#4a4a66" stroke-width="3.5" stroke-linecap="round"/><line x1="2.30" y1="3.98" x2="4.95" y2="8.57" stroke="#4a4a66" stroke-width="3.5" stroke-linecap="round"/><line x1="-1.03" y1="4.48" x2="-2.23" y2="9.65" stroke="#4a4a66" stroke-width="3.5" stroke-linecap="round"/><line x1="-4.02" y1="2.23" x2="-8.66" y2="4.80" stroke="#4a4a66" stroke-width="3.5" stroke-linecap="round"/><line x1="-4.42" y1="-1.27" x2="-9.52" y2="-2.73" stroke="#4a4a66" stroke-width="3.5" stroke-linecap="round"/><line x1="-2.44" y1="-3.90" x2="-5.25" y2="-8.40" stroke="#4a4a66" stroke-width="3.5" stroke-linecap="round"/><line x1="1.11" y1="-4.46" x2="2.40" y2="-9.61" stroke="#f6f600" stroke-width="2.2" stroke-linecap="round"/><line x1="4.06" y1="-2.16" x2="8.74" y2="-4.65" stroke="#f6f600" stroke-width="2.2" stroke-linecap="round"/><line x1="4.48" y1="1.03" x2="9.65" y2="2.23" stroke="#f6f600" stroke-width="2.2" stroke-linecap="round"/><line x1="2.30" y1="3.98" x2="4.95" y2="8.57" stroke="#f6f600" stroke-width="2.2" stroke-linecap="round"/><line x1="-1.03" y1="4.48" x2="-2.23" y2="9.65" stroke="#f6f600" stroke-width="2.2" stroke-linecap="round"/><line x1="-4.02" y1="2.23" x2="-8.66" y2="4.80" stroke="#f6f600" stroke-width="2.2" stroke-linecap="round"/><line x1="-4.42" y1="-1.27" x2="-9.52" y2="-2.73" stroke="#f6f600" stroke-width="2.2" stroke-linecap="round"/><line x1="-2.44" y1="-3.90" x2="-5.25" y2="-8.40" stroke="#f6f600" stroke-width="2.2" stroke-linecap="round"/><circle r="5.00" fill="#ffee00" stroke="#f39a1a" stroke-width="1.1"/><circle r="3.90" fill="#ffff10"/></g><g transform="translate(138.50,0)"><polygon points="-13.90,92.40 -13.70,90.51 -13.50,89.74 -13.30,89.16 -13.10,88.68 -12.90,88.27 -12.70,87.90 -12.49,87.57 -12.29,87.27 -12.09,86.99 -11.89,86.73 -11.69,86.49 -11.49,86.27 -11.29,86.06 -11.09,85.87 -10.89,85.68 -10.69,85.51 -10.49,85.34 -10.29,85.19 -10.09,85.04 -9.88,84.91 -9.68,84.78 -9.48,84.65 -9.28,84.54 -9.08,84.43 -8.88,84.33 -8.68,84.23 -8.48,84.14 -8.28,84.06 -8.08,83.98 -7.88,83.91 -7.68,83.84 -7.47,83.78 -7.27,83.72 -7.07,83.67 -6.87,83.62 -6.67,83.58 -6.47,83.54 -6.27,83.50 -6.07,83.48 -5.87,83.45 -5.67,83.43 -5.47,83.42 -5.27,83.41 -5.07,83.40 -4.86,83.40 -4.66,83.40 -4.46,83.41 -4.26,83.42 -4.06,83.44 -3.86,83.46 -3.66,83.49 -3.46,83.52 -3.26,83.55 -3.06,83.59 -2.86,83.64 -2.66,83.68 -2.46,83.74 -2.25,83.80 -2.05,83.86 -1.85,83.93 -1.65,84.01 -1.45,84.09 -1.25,84.17 -1.05,84.27 -0.85,84.36 -0.65,84.47 -0.45,84.58 -0.25,84.70 -0.05,84.82 0.16,84.95 0.36,85.09 0.56,85.24 0.76,85.40 0.96,85.57 1.16,85.75 1.36,85.93 1.56,86.13 1.76,86.35 1.96,86.58 2.16,86.82 2.36,87.09 2.56,87.37 2.77,87.68 2.97,88.03 3.17,88.41 3.37,88.84 3.57,89.35 3.77,89.78 3.97,89.62 4.17,89.48 4.37,89.36 4.57,89.25 4.77,89.15 4.97,89.06 5.17,88.98 5.38,88.92 5.58,88.86 5.78,88.81 5.98,88.77 6.18,88.74 6.38,88.72 6.58,88.71 6.78,88.70 6.98,88.70 7.18,88.72 7.38,88.74 7.58,88.76 7.79,88.80 7.99,88.85 8.19,88.90 8.39,88.97 8.59,89.05 8.79,89.13 8.99,89.23 9.19,89.34 9.39,89.46 9.59,89.60 9.79,89.75 9.99,89.92 10.19,90.11 10.40,90.32 10.60,90.56 10.80,90.84 11.00,91.17 11.20,91.58 11.40,92.13 11.60,93.50 11.60,93.50 11.40,94.87 11.20,95.42 11.00,95.83 10.80,96.16 10.60,96.44 10.40,96.68 10.19,96.89 9.99,97.08 9.79,97.25 9.59,97.40 9.39,97.54 9.19,97.66 8.99,97.77 8.79,97.87 8.59,97.95 8.39,98.03 8.19,98.10 7.99,98.15 7.79,98.20 7.58,98.24 7.38,98.26 7.18,98.28 6.98,98.30 6.78,98.30 6.58,98.30 6.38,98.30 6.18,98.30 5.98,98.30 5.78,98.30 5.58,98.30 5.38,98.30 5.17,98.30 4.97,98.30 4.77,98.30 4.57,98.30 4.37,98.30 4.17,98.30 3.97,98.30 3.77,98.30 3.57,98.30 3.37,98.30 3.17,98.30 2.97,98.30 2.77,98.30 2.56,98.30 2.36,98.30 2.16,98.30 1.96,98.30 1.76,98.30 1.56,98.30 1.36,98.30 1.16,98.30 0.96,98.30 0.76,98.30 0.56,98.30 0.36,98.30 0.16,98.30 -0.05,98.30 -0.25,98.30 -0.45,98.30 -0.65,98.30 -0.85,98.30 -1.05,98.30 -1.25,98.30 -1.45,98.30 -1.65,98.30 -1.85,98.30 -2.05,98.30 -2.25,98.30 -2.46,98.30 -2.66,98.30 -2.86,98.30 -3.06,98.30 -3.26,98.30 -3.46,98.30 -3.66,98.30 -3.86,98.30 -4.06,98.30 -4.26,98.30 -4.46,98.30 -4.66,98.30 -4.86,98.30 -5.07,98.30 -5.27,98.30 -5.47,98.30 -5.67,98.30 -5.87,98.30 -6.07,98.30 -6.27,98.30 -6.47,98.30 -6.67,98.30 -6.87,98.30 -7.07,98.30 -7.27,98.30 -7.47,98.30 -7.68,98.30 -7.88,98.30 -8.08,98.30 -8.28,98.30 -8.48,98.30 -8.68,98.30 -8.88,98.30 -9.08,98.30 -9.28,98.30 -9.48,98.30 -9.68,98.30 -9.88,98.30 -10.09,98.30 -10.29,98.30 -10.49,98.30 -10.69,98.30 -10.89,98.30 -11.09,98.30 -11.29,98.30 -11.49,98.30 -11.69,98.30 -11.89,98.07 -12.09,97.81 -12.29,97.53 -12.49,97.23 -12.70,96.90 -12.90,96.53 -13.10,96.12 -13.30,95.64 -13.50,95.06 -13.70,94.29 -13.90,92.40" fill="#1656b8"/><polygon points="-12.15,92.40 -11.95,90.71 -11.75,90.03 -11.55,89.51 -11.35,89.09 -11.15,88.73 -10.95,88.41 -10.75,88.12 -10.55,87.86 -10.35,87.62 -10.15,87.40 -9.95,87.20 -9.75,87.01 -9.55,86.84 -9.35,86.68 -9.15,86.53 -8.95,86.39 -8.75,86.26 -8.55,86.14 -8.35,86.02 -8.15,85.92 -7.95,85.82 -7.75,85.73 -7.55,85.65 -7.35,85.58 -7.15,85.51 -6.95,85.45 -6.75,85.39 -6.55,85.34 -6.35,85.30 -6.15,85.26 -5.95,85.23 -5.75,85.20 -5.55,85.18 -5.35,85.16 -5.15,85.15 -4.95,85.15 -4.75,85.15 -4.55,85.16 -4.35,85.17 -4.15,85.19 -3.95,85.21 -3.75,85.24 -3.55,85.28 -3.35,85.32 -3.15,85.36 -2.95,85.42 -2.75,85.48 -2.55,85.54 -2.35,85.61 -2.15,85.69 -1.95,85.78 -1.75,85.87 -1.55,85.97 -1.35,86.08 -1.15,86.20 -0.95,86.32 -0.75,86.46 -0.55,86.60 -0.35,86.76 -0.15,86.92 0.05,87.10 0.25,87.30 0.45,87.51 0.65,87.74 0.85,87.98 1.05,88.26 1.25,88.56 1.45,88.90 1.65,89.29 1.85,89.75 2.05,90.34 2.25,91.20 2.45,92.40 2.65,92.40 2.85,92.40 3.05,92.40 3.25,92.40 3.45,92.40 3.65,92.40 3.85,92.40 4.05,92.18 4.25,91.83 4.45,91.56 4.65,91.34 4.85,91.15 5.05,91.00 5.25,90.87 5.45,90.77 5.65,90.68 5.85,90.60 6.05,90.54 6.25,90.50 6.45,90.47 6.65,90.45 6.85,90.45 7.05,90.46 7.25,90.48 7.45,90.52 7.65,90.57 7.85,90.64 8.05,90.72 8.25,90.82 8.45,90.93 8.65,91.08 8.85,91.24 9.05,91.44 9.25,91.68 9.45,91.99 9.65,92.41 9.85,93.50 9.85,93.50 9.65,94.59 9.45,95.01 9.25,95.32 9.05,95.56 8.85,95.76 8.65,95.92 8.45,96.07 8.25,96.18 8.05,96.28 7.85,96.36 7.65,96.43 7.45,96.48 7.25,96.52 7.05,96.54 6.85,96.55 6.65,96.55 6.45,96.55 6.25,96.55 6.05,96.55 5.85,96.55 5.65,96.55 5.45,96.55 5.25,96.55 5.05,96.55 4.85,96.55 4.65,96.55 4.45,96.55 4.25,96.55 4.05,96.55 3.85,96.55 3.65,96.55 3.45,96.55 3.25,96.55 3.05,96.55 2.85,96.55 2.65,96.55 2.45,96.55 2.25,96.55 2.05,96.55 1.85,96.55 1.65,96.55 1.45,96.55 1.25,96.55 1.05,96.55 0.85,96.55 0.65,96.55 0.45,96.55 0.25,96.55 0.05,96.55 -0.15,96.55 -0.35,96.55 -0.55,96.55 -0.75,96.55 -0.95,96.55 -1.15,96.55 -1.35,96.55 -1.55,96.55 -1.75,96.55 -1.95,96.55 -2.15,96.55 -2.35,96.55 -2.55,96.55 -2.75,96.55 -2.95,96.55 -3.15,96.55 -3.35,96.55 -3.55,96.55 -3.75,96.55 -3.95,96.55 -4.15,96.55 -4.35,96.55 -4.55,96.55 -4.75,96.55 -4.95,96.55 -5.15,96.55 -5.35,96.55 -5.55,96.55 -5.75,96.55 -5.95,96.55 -6.15,96.55 -6.35,96.55 -6.55,96.55 -6.75,96.55 -6.95,96.55 -7.15,96.55 -7.35,96.55 -7.55,96.55 -7.75,96.55 -7.95,96.55 -8.15,96.55 -8.35,96.55 -8.55,96.55 -8.75,96.55 -8.95,96.55 -9.15,96.55 -9.35,96.55 -9.55,96.55 -9.75,96.55 -9.95,96.55 -10.15,96.55 -10.35,96.55 -10.55,96.55 -10.75,96.55 -10.95,96.39 -11.15,96.07 -11.35,95.71 -11.55,95.29 -11.75,94.77 -11.95,94.09 -12.15,92.40" fill="#f3ecdc"/><polygon points="-11.15,92.40 -10.95,90.83 -10.75,90.20 -10.55,89.73 -10.35,89.34 -10.15,89.01 -9.95,88.72 -9.75,88.46 -9.55,88.22 -9.35,88.01 -9.15,87.82 -8.95,87.64 -8.75,87.48 -8.55,87.33 -8.35,87.19 -8.15,87.06 -7.95,86.94 -7.75,86.84 -7.55,86.74 -7.35,86.65 -7.15,86.57 -6.95,86.50 -6.75,86.43 -6.55,86.37 -6.35,86.32 -6.15,86.28 -5.95,86.24 -5.75,86.21 -5.55,86.18 -5.35,86.17 -5.15,86.16 -4.95,86.15 -4.75,86.15 -4.55,86.16 -4.35,86.17 -4.15,86.20 -3.95,86.22 -3.75,86.26 -3.55,86.30 -3.35,86.35 -3.15,86.40 -2.95,86.46 -2.75,86.53 -2.55,86.61 -2.35,86.69 -2.15,86.79 -1.95,86.89 -1.75,87.00 -1.55,87.12 -1.35,87.26 -1.15,87.40 -0.95,87.56 -0.75,87.73 -0.55,87.91 -0.35,88.12 -0.15,88.34 0.05,88.58 0.25,88.86 0.45,89.17 0.65,89.53 0.85,89.95 1.05,90.49 1.25,91.29 1.45,92.40 1.65,92.40 1.85,92.40 2.05,92.40 2.25,92.40 2.45,92.40 2.65,92.40 2.85,92.40 3.05,92.40 3.25,92.40 3.45,92.40 3.65,92.40 3.85,92.40 4.05,92.40 4.25,92.40 4.45,92.40 4.65,92.40 4.85,92.40 5.05,92.40 5.25,92.16 5.45,91.96 5.65,91.80 5.85,91.68 6.05,91.59 6.25,91.53 6.45,91.48 6.65,91.46 6.85,91.45 7.05,91.47 7.25,91.50 7.45,91.56 7.65,91.63 7.85,91.74 8.05,91.88 8.25,92.05 8.45,92.28 8.65,92.62 8.85,93.50 8.85,93.50 8.65,94.38 8.45,94.72 8.25,94.95 8.05,95.12 7.85,95.26 7.65,95.37 7.45,95.44 7.25,95.50 7.05,95.53 6.85,95.55 6.65,95.55 6.45,95.55 6.25,95.55 6.05,95.55 5.85,95.55 5.65,95.55 5.45,95.55 5.25,95.55 5.05,95.55 4.85,95.55 4.65,95.55 4.45,95.55 4.25,95.55 4.05,95.55 3.85,95.55 3.65,95.55 3.45,95.55 3.25,95.55 3.05,95.55 2.85,95.55 2.65,95.55 2.45,95.55 2.25,95.55 2.05,95.55 1.85,95.55 1.65,95.55 1.45,95.55 1.25,95.55 1.05,95.55 0.85,95.55 0.65,95.55 0.45,95.55 0.25,95.55 0.05,95.55 -0.15,95.55 -0.35,95.55 -0.55,95.55 -0.75,95.55 -0.95,95.55 -1.15,95.55 -1.35,95.55 -1.55,95.55 -1.75,95.55 -1.95,95.55 -2.15,95.55 -2.35,95.55 -2.55,95.55 -2.75,95.55 -2.95,95.55 -3.15,95.55 -3.35,95.55 -3.55,95.55 -3.75,95.55 -3.95,95.55 -4.15,95.55 -4.35,95.55 -4.55,95.55 -4.75,95.55 -4.95,95.55 -5.15,95.55 -5.35,95.55 -5.55,95.55 -5.75,95.55 -5.95,95.55 -6.15,95.55 -6.35,95.55 -6.55,95.55 -6.75,95.55 -6.95,95.55 -7.15,95.55 -7.35,95.55 -7.55,95.55 -7.75,95.55 -7.95,95.55 -8.15,95.55 -8.35,95.55 -8.55,95.55 -8.75,95.55 -8.95,95.55 -9.15,95.55 -9.35,95.55 -9.55,95.55 -9.75,95.55 -9.95,95.55 -10.15,95.55 -10.35,95.46 -10.55,95.07 -10.75,94.60 -10.95,93.97 -11.15,92.40" fill="#d6d6d6"/><path d="M-1.3,91.3 Q2.5,87.8 7.7,89.0" fill="none" stroke="#1656b8" stroke-width="1.75" stroke-linecap="round"/></g>
<text x="123.78" y="131.90" font-size="19.5" fill="#d6223f" textLength="22.91" lengthAdjust="spacingAndGlyphs" stroke="#d6223f" stroke-width="0.12">13</text>
<text x="146.59" y="120.70" font-size="10.6" fill="#d6223f" textLength="6.42" lengthAdjust="spacingAndGlyphs" stroke="#d6223f" stroke-width="0.2">o</text>
<text x="129.51" y="162.00" font-size="19.5" fill="#3aa7ea" textLength="11.45" lengthAdjust="spacingAndGlyphs" stroke="#3aa7ea" stroke-width="0.12">8</text>
<text x="140.86" y="150.80" font-size="10.6" fill="#3aa7ea" textLength="6.42" lengthAdjust="spacingAndGlyphs" stroke="#3aa7ea" stroke-width="0.2">o</text>
<text x="190.50" y="47.80" font-size="15.5" fill="#555555" text-anchor="middle" textLength="26.11" lengthAdjust="spacingAndGlyphs" stroke="#555555" stroke-width="0.15">Pet</text>
<text x="190.50" y="59.80" font-size="12.2" fill="#555555" text-anchor="middle" textLength="32.91" lengthAdjust="spacingAndGlyphs" stroke="#555555" stroke-width="0.15">03.10</text>
<g transform="translate(190.35,85.55)"><line x1="1.11" y1="-4.46" x2="2.40" y2="-9.61" stroke="#4a4a66" stroke-width="3.5" stroke-linecap="round"/><line x1="4.06" y1="-2.16" x2="8.74" y2="-4.65" stroke="#4a4a66" stroke-width="3.5" stroke-linecap="round"/><line x1="4.48" y1="1.03" x2="9.65" y2="2.23" stroke="#4a4a66" stroke-width="3.5" stroke-linecap="round"/><line x1="2.30" y1="3.98" x2="4.95" y2="8.57" stroke="#4a4a66" stroke-width="3.5" stroke-linecap="round"/><line x1="-1.03" y1="4.48" x2="-2.23" y2="9.65" stroke="#4a4a66" stroke-width="3.5" stroke-linecap="round"/><line x1="-4.02" y1="2.23" x2="-8.66" y2="4.80" stroke="#4a4a66" stroke-width="3.5" stroke-linecap="round"/><line x1="-4.42" y1="-1.27" x2="-9.52" y2="-2.73" stroke="#4a4a66" stroke-width="3.5" stroke-linecap="round"/><line x1="-2.44" y1="-3.90" x2="-5.25" y2="-8.40" stroke="#4a4a66" stroke-width="3.5" stroke-linecap="round"/><line x1="1.11" y1="-4.46" x2="2.40" y2="-9.61" stroke="#f6f600" stroke-width="2.2" stroke-linecap="round"/><line x1="4.06" y1="-2.16" x2="8.74" y2="-4.65" stroke="#f6f600" stroke-width="2.2" stroke-linecap="round"/><line x1="4.48" y1="1.03" x2="9.65" y2="2.23" stroke="#f6f600" stroke-width="2.2" stroke-linecap="round"/><line x1="2.30" y1="3.98" x2="4.95" y2="8.57" stroke="#f6f600" stroke-width="2.2" stroke-linecap="round"/><line x1="-1.03" y1="4.48" x2="-2.23" y2="9.65" stroke="#f6f600" stroke-width="2.2" stroke-linecap="round"/><line x1="-4.02" y1="2.23" x2="-8.66" y2="4.80" stroke="#f6f600" stroke-width="2.2" stroke-linecap="round"/><line x1="-4.42" y1="-1.27" x2="-9.52" y2="-2.73" stroke="#f6f600" stroke-width="2.2" stroke-linecap="round"/><line x1="-2.44" y1="-3.90" x2="-5.25" y2="-8.40" stroke="#f6f600" stroke-width="2.2" stroke-linecap="round"/><circle r="5.00" fill="#ffee00" stroke="#f39a1a" stroke-width="1.1"/><circle r="3.90" fill="#ffff10"/></g>
<text x="175.78" y="131.90" font-size="19.5" fill="#d6223f" textLength="22.91" lengthAdjust="spacingAndGlyphs" stroke="#d6223f" stroke-width="0.12">14</text>
<text x="198.59" y="120.70" font-size="10.6" fill="#d6223f" textLength="6.42" lengthAdjust="spacingAndGlyphs" stroke="#d6223f" stroke-width="0.2">o</text>
<text x="181.51" y="162.00" font-size="19.5" fill="#3aa7ea" textLength="11.45" lengthAdjust="spacingAndGlyphs" stroke="#3aa7ea" stroke-width="0.12">5</text>
<text x="192.86" y="150.80" font-size="10.6" fill="#3aa7ea" textLength="6.42" lengthAdjust="spacingAndGlyphs" stroke="#3aa7ea" stroke-width="0.2">o</text>
<text x="242.50" y="47.80" font-size="15.5" fill="#b3125a" text-anchor="middle" textLength="31.21" lengthAdjust="spacingAndGlyphs" stroke="#b3125a" stroke-width="0.15">Sob</text>
<text x="242.50" y="59.80" font-size="12.2" fill="#b3125a" text-anchor="middle" textLength="32.91" lengthAdjust="spacingAndGlyphs" stroke="#b3125a" stroke-width="0.24">04.10</text>
<g transform="translate(242.50,2.63) scale(0.92)"><polygon points="-14.10,86.70 -13.90,86.10 -13.70,85.65 -13.50,85.29 -13.30,84.98 -13.10,84.70 -12.90,84.46 -12.70,84.24 -12.50,84.04 -12.30,83.86 -12.10,83.70 -11.90,83.55 -11.70,83.42 -11.50,83.29 -11.30,83.18 -11.10,83.08 -10.90,82.98 -10.70,82.90 -10.50,82.83 -10.30,82.76 -10.10,82.70 -9.90,82.65 -9.70,82.61 -9.50,82.57 -9.30,82.54 -9.10,82.52 -8.90,82.51 -8.70,82.50 -8.50,82.50 -8.30,82.51 -8.10,82.52 -7.90,82.54 -7.70,82.57 -7.50,82.61 -7.30,82.65 -7.10,82.70 -6.90,82.76 -6.70,82.83 -6.50,82.90 -6.30,82.98 -6.10,83.08 -5.90,83.18 -5.70,83.29 -5.50,83.42 -5.30,83.55 -5.10,83.05 -4.90,81.46 -4.70,80.81 -4.50,80.33 -4.30,79.94 -4.10,79.60 -3.90,79.30 -3.70,79.04 -3.50,78.80 -3.30,78.58 -3.10,78.38 -2.90,78.20 -2.70,78.03 -2.50,77.88 -2.30,77.73 -2.10,77.60 -1.90,77.48 -1.70,77.37 -1.50,77.26 -1.30,77.17 -1.10,77.08 -0.90,77.01 -0.70,76.93 -0.50,76.87 -0.30,76.81 -0.10,76.77 0.10,76.72 0.30,76.69 0.50,76.66 0.70,76.63 0.90,76.62 1.10,76.60 1.30,76.60 1.50,76.60 1.70,76.61 1.90,76.62 2.10,76.64 2.30,76.67 2.50,76.70 2.70,76.74 2.90,76.79 3.10,76.84 3.30,76.90 3.50,76.97 3.70,77.04 3.90,77.13 4.10,77.22 4.30,77.31 4.50,77.42 4.70,77.54 4.90,77.66 5.10,77.80 5.30,77.95 5.50,78.11 5.70,78.29 5.90,78.48 6.10,78.69 6.30,78.91 6.50,79.17 6.70,79.45 6.90,79.76 7.10,80.13 7.30,80.56 7.50,81.11 7.70,81.80 7.90,81.56 8.10,81.35 8.30,81.17 8.50,81.00 8.70,80.85 8.90,80.72 9.10,80.60 9.30,80.50 9.50,80.40 9.70,80.32 9.90,80.25 10.10,80.18 10.30,80.13 10.50,80.09 10.70,80.05 10.90,80.03 11.10,80.01 11.30,80.00 11.50,80.00 11.70,80.01 11.90,80.03 12.10,80.05 12.30,80.09 12.50,80.13 12.70,80.18 12.90,80.25 13.10,80.32 13.30,80.40 13.50,80.50 13.70,80.60 13.90,80.72 14.10,80.85 14.30,81.00 14.50,81.17 14.70,81.35 14.90,81.56 15.10,81.80 15.30,82.08 15.50,82.40 15.70,82.80 15.90,83.34 15.90,86.06 15.70,86.60 15.50,87.00 15.30,87.32 15.10,87.60 14.90,87.84 14.70,88.05 14.50,88.23 14.30,88.40 14.10,88.55 13.90,88.68 13.70,88.80 13.50,88.90 13.30,89.00 13.10,89.08 12.90,89.15 12.70,89.22 12.50,89.27 12.30,89.31 12.10,89.35 11.90,89.37 11.70,89.39 11.50,89.40 11.30,93.90 11.10,93.90 10.90,93.90 10.70,93.90 10.50,93.90 10.30,93.90 10.10,93.90 9.90,93.90 9.70,93.90 9.50,93.90 9.30,93.90 9.10,93.90 8.90,93.90 8.70,93.90 8.50,93.90 8.30,93.90 8.10,93.90 7.90,93.90 7.70,93.90 7.50,93.90 7.30,93.90 7.10,93.90 6.90,93.90 6.70,93.90 6.50,93.90 6.30,93.90 6.10,93.90 5.90,93.90 5.70,93.90 5.50,93.90 5.30,93.90 5.10,93.90 4.90,93.90 4.70,93.90 4.50,93.90 4.30,93.90 4.10,93.90 3.90,93.90 3.70,93.90 3.50,93.90 3.30,93.90 3.10,93.90 2.90,93.90 2.70,93.90 2.50,93.90 2.30,93.90 2.10,93.90 1.90,93.90 1.70,93.90 1.50,93.90 1.30,93.90 1.10,93.90 0.90,93.90 0.70,93.90 0.50,93.90 0.30,93.90 0.10,93.90 -0.10,93.90 -0.30,93.90 -0.50,93.90 -0.70,93.90 -0.90,93.90 -1.10,93.90 -1.30,93.90 -1.50,93.90 -1.70,93.90 -1.90,93.90 -2.10,93.90 -2.30,93.90 -2.50,93.90 -2.70,93.90 -2.90,93.90 -3.10,93.90 -3.30,93.90 -3.50,93.90 -3.70,93.90 -3.90,93.90 -4.10,93.90 -4.30,93.90 -4.50,93.90 -4.70,93.90 -4.90,93.90 -5.10,93.90 -5.30,93.90 -5.50,93.90 -5.70,93.90 -5.90,93.90 -6.10,93.90 -6.30,93.90 -6.50,93.90 -6.70,93.90 -6.90,93.90 -7.10,93.90 -7.30,93.90 -7.50,93.90 -7.70,93.90 -7.90,93.90 -8.10,93.90 -8.30,93.90 -8.50,93.90 -8.70,93.90 -8.90,93.89 -9.10,93.88 -9.30,93.86 -9.50,93.83 -9.70,93.79 -9.90,93.75 -10.10,93.70 -10.30,93.64 -10.50,93.57 -10.70,93.50 -10.90,93.42 -11.10,93.32 -11.30,93.22 -11.50,93.11 -11.70,92.98 -11.90,92.85 -12.10,92.70 -12.30,92.54 -12.50,92.36 -12.70,92.16 -12.90,91.94 -13.10,91.70 -13.30,91.42 -13.50,91.11 -13.70,90.75 -13.90,90.30 -14.10,89.70" fill="#1656b8"/><polygon points="-12.35,86.96 -12.15,86.46 -11.95,86.10 -11.75,85.81 -11.55,85.57 -11.35,85.36 -11.14,85.18 -10.94,85.02 -10.74,84.88 -10.54,84.76 -10.34,84.65 -10.14,84.56 -9.94,84.48 -9.74,84.42 -9.54,84.36 -9.34,84.32 -9.14,84.29 -8.94,84.26 -8.74,84.25 -8.54,84.25 -8.33,84.26 -8.13,84.28 -7.93,84.31 -7.73,84.35 -7.53,84.40 -7.33,84.46 -7.13,84.53 -6.93,84.62 -6.73,84.72 -6.53,84.84 -6.33,84.97 -6.13,85.12 -5.93,85.29 -5.72,85.49 -5.52,85.72 -5.32,85.99 -5.12,86.33 -4.92,86.76 -4.72,87.45 -4.52,88.00 -4.32,88.00 -4.12,88.00 -3.92,88.00 -3.72,88.00 -3.52,88.00 -3.32,82.48 -3.11,81.58 -2.91,81.07 -2.71,80.69 -2.51,80.37 -2.31,80.10 -2.11,79.87 -1.91,79.66 -1.71,79.48 -1.51,79.32 -1.31,79.17 -1.11,79.04 -0.91,78.93 -0.71,78.82 -0.51,78.73 -0.30,78.65 -0.10,78.58 0.10,78.52 0.30,78.47 0.50,78.43 0.70,78.40 0.90,78.37 1.10,78.36 1.30,78.35 1.50,78.35 1.70,78.36 1.90,78.38 2.10,78.41 2.31,78.45 2.51,78.49 2.71,78.55 2.91,78.62 3.11,78.69 3.31,78.78 3.51,78.88 3.71,78.99 3.91,79.11 4.11,79.25 4.31,79.40 4.51,79.57 4.71,79.77 4.91,79.99 5.12,80.24 5.32,80.53 5.52,80.88 5.72,81.31 5.92,81.95 6.12,88.00 6.32,88.00 6.52,88.00 6.72,88.00 6.92,88.00 7.12,88.00 7.32,88.00 7.52,88.00 7.73,88.00 7.93,88.00 8.13,88.00 8.33,88.00 8.53,84.02 8.73,83.45 8.93,83.09 9.13,82.82 9.33,82.60 9.53,82.42 9.73,82.27 9.93,82.14 10.13,82.04 10.34,81.95 10.54,81.88 10.74,81.83 10.94,81.79 11.14,81.76 11.34,81.75 11.54,81.75 11.74,81.77 11.94,81.80 12.14,81.84 12.34,81.90 12.54,81.98 12.74,82.07 12.94,82.19 13.15,82.32 13.35,82.48 13.55,82.68 13.75,82.91 13.95,83.21 14.15,83.63 14.15,85.77 13.95,86.19 13.75,86.49 13.55,86.72 13.35,86.92 13.15,87.08 12.94,87.21 12.74,87.33 12.54,87.42 12.34,87.50 12.14,87.56 11.94,87.60 11.74,87.63 11.54,87.65 11.34,92.15 11.14,92.15 10.94,92.15 10.74,92.15 10.54,92.15 10.34,92.15 10.13,92.15 9.93,92.15 9.73,92.15 9.53,92.15 9.33,92.15 9.13,92.15 8.93,92.15 8.73,92.15 8.53,92.15 8.33,92.15 8.13,92.15 7.93,92.15 7.73,92.15 7.52,92.15 7.32,92.15 7.12,92.15 6.92,92.15 6.72,92.15 6.52,92.15 6.32,92.15 6.12,92.15 5.92,92.15 5.72,92.15 5.52,92.15 5.32,92.15 5.12,92.15 4.91,92.15 4.71,92.15 4.51,92.15 4.31,92.15 4.11,92.15 3.91,92.15 3.71,92.15 3.51,92.15 3.31,92.15 3.11,92.15 2.91,92.15 2.71,92.15 2.51,92.15 2.31,92.15 2.10,92.15 1.90,92.15 1.70,92.15 1.50,92.15 1.30,92.15 1.10,92.15 0.90,92.15 0.70,92.15 0.50,92.15 0.30,92.15 0.10,92.15 -0.10,92.15 -0.30,92.15 -0.51,92.15 -0.71,92.15 -0.91,92.15 -1.11,92.15 -1.31,92.15 -1.51,92.15 -1.71,92.15 -1.91,92.15 -2.11,92.15 -2.31,92.15 -2.51,92.15 -2.71,92.15 -2.91,92.15 -3.11,92.15 -3.32,92.15 -3.52,92.15 -3.72,92.15 -3.92,92.15 -4.12,92.15 -4.32,92.15 -4.52,92.15 -4.72,92.15 -4.92,92.15 -5.12,92.15 -5.32,92.15 -5.52,92.15 -5.72,92.15 -5.93,92.15 -6.13,92.15 -6.33,92.15 -6.53,92.15 -6.73,92.15 -6.93,92.15 -7.13,92.15 -7.33,92.15 -7.53,92.15 -7.73,92.15 -7.93,92.15 -8.13,92.15 -8.33,92.15 -8.54,92.15 -8.74,92.15 -8.94,92.14 -9.14,92.11 -9.34,92.08 -9.54,92.04 -9.74,91.98 -9.94,91.92 -10.14,91.84 -10.34,91.75 -10.54,91.64 -10.74,91.52 -10.94,91.38 -11.14,91.22 -11.35,91.04 -11.55,90.83 -11.75,90.59 -11.95,90.30 -12.15,89.94 -12.35,89.44" fill="#f3ecdc"/><polygon points="-11.35,87.13 -11.15,86.71 -10.95,86.41 -10.75,86.18 -10.55,85.98 -10.35,85.82 -10.14,85.69 -9.94,85.57 -9.74,85.48 -9.54,85.40 -9.34,85.34 -9.14,85.30 -8.94,85.27 -8.74,85.25 -8.54,85.25 -8.34,85.26 -8.14,85.29 -7.94,85.33 -7.73,85.38 -7.53,85.45 -7.33,85.54 -7.13,85.64 -6.93,85.77 -6.73,85.92 -6.53,86.10 -6.33,86.32 -6.13,86.59 -5.93,86.95 -5.73,87.53 -5.53,88.00 -5.33,88.00 -5.12,88.00 -4.92,88.00 -4.72,88.00 -4.52,88.00 -4.32,88.00 -4.12,88.00 -3.92,88.00 -3.72,88.00 -3.52,88.00 -3.32,88.00 -3.12,88.00 -2.92,88.00 -2.71,88.00 -2.51,88.00 -2.31,82.53 -2.11,81.74 -1.91,81.30 -1.71,80.97 -1.51,80.70 -1.31,80.48 -1.11,80.28 -0.91,80.12 -0.71,79.97 -0.51,79.85 -0.30,79.74 -0.10,79.65 0.10,79.57 0.30,79.50 0.50,79.45 0.70,79.41 0.90,79.38 1.10,79.36 1.30,79.35 1.50,79.35 1.70,79.37 1.90,79.39 2.10,79.43 2.31,79.48 2.51,79.54 2.71,79.61 2.91,79.69 3.11,79.79 3.31,79.91 3.51,80.05 3.71,80.20 3.91,80.38 4.11,80.59 4.31,80.83 4.51,81.13 4.72,81.51 4.92,82.06 5.12,88.00 5.32,88.00 5.52,88.00 5.72,88.00 5.92,88.00 6.12,88.00 6.32,88.00 6.52,88.00 6.72,88.00 6.92,88.00 7.12,88.00 7.33,88.00 7.53,88.00 7.73,88.00 7.93,88.00 8.13,88.00 8.33,88.00 8.53,88.00 8.73,88.00 8.93,88.00 9.13,88.00 9.33,88.00 9.53,84.13 9.74,83.68 9.94,83.41 10.14,83.21 10.34,83.06 10.54,82.95 10.74,82.87 10.94,82.80 11.14,82.77 11.34,82.75 11.54,82.76 11.74,82.78 11.94,82.83 12.15,82.90 12.35,82.99 12.55,83.12 12.75,83.29 12.95,83.51 13.15,83.84 13.15,85.56 12.95,85.89 12.75,86.11 12.55,86.28 12.35,86.41 12.15,86.50 11.94,86.57 11.74,86.62 11.54,86.64 11.34,91.15 11.14,91.15 10.94,91.15 10.74,91.15 10.54,91.15 10.34,91.15 10.14,91.15 9.94,91.15 9.74,91.15 9.53,91.15 9.33,91.15 9.13,91.15 8.93,91.15 8.73,91.15 8.53,91.15 8.33,91.15 8.13,91.15 7.93,91.15 7.73,91.15 7.53,91.15 7.33,91.15 7.12,91.15 6.92,91.15 6.72,91.15 6.52,91.15 6.32,91.15 6.12,91.15 5.92,91.15 5.72,91.15 5.52,91.15 5.32,91.15 5.12,91.15 4.92,91.15 4.72,91.15 4.51,91.15 4.31,91.15 4.11,91.15 3.91,91.15 3.71,91.15 3.51,91.15 3.31,91.15 3.11,91.15 2.91,91.15 2.71,91.15 2.51,91.15 2.31,91.15 2.10,91.15 1.90,91.15 1.70,91.15 1.50,91.15 1.30,91.15 1.10,91.15 0.90,91.15 0.70,91.15 0.50,91.15 0.30,91.15 0.10,91.15 -0.10,91.15 -0.30,91.15 -0.51,91.15 -0.71,91.15 -0.91,91.15 -1.11,91.15 -1.31,91.15 -1.51,91.15 -1.71,91.15 -1.91,91.15 -2.11,91.15 -2.31,91.15 -2.51,91.15 -2.71,91.15 -2.92,91.15 -3.12,91.15 -3.32,91.15 -3.52,91.15 -3.72,91.15 -3.92,91.15 -4.12,91.15 -4.32,91.15 -4.52,91.15 -4.72,91.15 -4.92,91.15 -5.12,91.15 -5.33,91.15 -5.53,91.15 -5.73,91.15 -5.93,91.15 -6.13,91.15 -6.33,91.15 -6.53,91.15 -6.73,91.15 -6.93,91.15 -7.13,91.15 -7.33,91.15 -7.53,91.15 -7.73,91.15 -7.94,91.15 -8.14,91.15 -8.34,91.15 -8.54,91.15 -8.74,91.15 -8.94,91.13 -9.14,91.10 -9.34,91.06 -9.54,91.00 -9.74,90.92 -9.94,90.83 -10.14,90.71 -10.35,90.58 -10.55,90.42 -10.75,90.22 -10.95,89.99 -11.15,89.69 -11.35,89.27" fill="#d9d9d9"/><polygon points="-6.00,90.90 -5.80,89.56 -5.60,89.02 -5.40,88.62 -5.20,88.30 -5.00,88.03 -4.79,87.80 -4.59,87.59 -4.39,87.41 -4.19,87.24 -3.99,87.10 -3.79,86.97 -3.59,86.85 -3.39,86.75 -3.19,86.66 -2.99,86.58 -2.79,86.51 -2.58,86.46 -2.38,86.41 -2.18,86.37 -1.98,86.34 -1.78,86.32 -1.58,86.30 -1.38,86.30 -1.18,86.31 -0.98,86.32 -0.78,86.34 -0.58,86.37 -0.37,86.27 -0.17,85.60 0.03,85.13 0.23,84.76 0.43,84.45 0.63,84.18 0.83,83.94 1.03,83.73 1.23,83.55 1.43,83.38 1.63,83.22 1.84,83.09 2.04,82.96 2.24,82.85 2.44,82.75 2.64,82.66 2.84,82.58 3.04,82.51 3.24,82.45 3.44,82.39 3.64,82.35 3.84,82.31 4.05,82.29 4.25,82.27 4.45,82.25 4.65,82.25 4.85,82.25 5.05,82.27 5.25,82.29 5.45,82.31 5.65,82.35 5.85,82.39 6.06,82.45 6.26,82.51 6.46,82.58 6.66,82.66 6.86,82.75 7.06,82.85 7.26,82.96 7.46,83.09 7.66,83.22 7.86,83.38 8.06,83.54 8.27,83.73 8.47,83.94 8.67,84.18 8.87,84.45 9.07,84.75 9.27,85.12 9.47,85.59 9.67,86.26 9.87,86.86 10.07,86.78 10.27,86.71 10.48,86.65 10.68,86.60 10.88,86.56 11.08,86.53 11.28,86.51 11.48,86.50 11.68,86.50 11.88,86.51 12.08,86.53 12.28,86.55 12.48,86.59 12.69,86.64 12.89,86.70 13.09,86.77 13.29,86.85 13.49,86.94 13.69,87.04 13.89,87.16 14.09,87.30 14.29,87.45 14.49,87.62 14.69,87.81 14.90,88.04 15.10,88.30 15.30,88.60 15.50,88.98 15.70,89.50 15.90,90.80 15.90,90.80 15.70,92.10 15.50,92.62 15.30,93.00 15.10,93.30 14.90,93.56 14.69,93.79 14.49,93.98 14.29,94.15 14.09,94.30 13.89,94.44 13.69,94.56 13.49,94.66 13.29,94.75 13.09,94.83 12.89,94.90 12.69,94.96 12.48,95.01 12.28,95.05 12.08,95.07 11.88,95.09 11.68,95.10 11.48,95.80 11.28,95.80 11.08,95.80 10.88,95.80 10.68,95.80 10.48,95.80 10.27,95.80 10.07,95.80 9.87,95.80 9.67,95.80 9.47,95.80 9.27,95.80 9.07,95.80 8.87,95.80 8.67,95.80 8.47,95.80 8.27,95.80 8.06,95.80 7.86,95.80 7.66,95.80 7.46,95.80 7.26,95.80 7.06,95.80 6.86,95.80 6.66,95.80 6.46,95.80 6.26,95.80 6.06,95.80 5.85,95.80 5.65,95.80 5.45,95.80 5.25,95.80 5.05,95.80 4.85,95.80 4.65,95.80 4.45,95.80 4.25,95.80 4.05,95.80 3.84,95.80 3.64,95.80 3.44,95.80 3.24,95.80 3.04,95.80 2.84,95.80 2.64,95.80 2.44,95.80 2.24,95.80 2.04,95.80 1.84,95.80 1.63,95.80 1.43,95.80 1.23,95.80 1.03,95.80 0.83,95.80 0.63,95.80 0.43,95.80 0.23,95.80 0.03,95.80 -0.17,95.80 -0.37,95.80 -0.58,95.80 -0.78,95.80 -0.98,95.80 -1.18,95.80 -1.38,95.80 -1.58,95.50 -1.78,95.48 -1.98,95.46 -2.18,95.43 -2.38,95.39 -2.58,95.34 -2.79,95.29 -2.99,95.22 -3.19,95.14 -3.39,95.05 -3.59,94.95 -3.79,94.83 -3.99,94.70 -4.19,94.56 -4.39,94.39 -4.59,94.21 -4.79,94.00 -5.00,93.77 -5.20,93.50 -5.40,93.18 -5.60,92.78 -5.80,92.24 -6.00,90.90" fill="#1656b8"/><polygon points="-4.05,89.85 -3.85,89.44 -3.64,89.14 -3.44,88.91 -3.24,88.72 -3.04,88.57 -2.83,88.44 -2.63,88.33 -2.43,88.24 -2.23,88.17 -2.03,88.12 -1.82,88.08 -1.62,88.06 -1.42,88.05 -1.22,88.06 -1.01,88.08 -0.81,88.11 -0.61,88.16 -0.41,88.23 -0.21,88.31 -0.00,88.42 0.20,88.54 0.40,88.69 0.60,88.87 0.80,89.09 1.01,89.37 1.21,89.75 1.41,86.36 1.61,85.87 1.82,85.52 2.02,85.25 2.22,85.02 2.42,84.83 2.62,84.67 2.83,84.53 3.03,84.41 3.23,84.31 3.43,84.23 3.64,84.15 3.84,84.10 4.04,84.06 4.24,84.02 4.44,84.01 4.65,84.00 4.85,84.01 5.05,84.02 5.25,84.05 5.46,84.10 5.66,84.15 5.86,84.22 6.06,84.31 6.26,84.41 6.47,84.53 6.67,84.66 6.87,84.83 7.07,85.01 7.28,85.24 7.48,85.51 7.68,85.86 7.88,86.34 8.08,91.00 8.29,91.00 8.49,91.00 8.69,91.00 8.89,91.00 9.10,90.32 9.30,89.70 9.50,89.35 9.70,89.10 9.90,88.90 10.11,88.73 10.31,88.60 10.51,88.49 10.71,88.41 10.91,88.34 11.12,88.30 11.32,88.27 11.52,88.25 11.72,88.25 11.93,88.27 12.13,88.31 12.33,88.36 12.53,88.43 12.73,88.52 12.94,88.63 13.14,88.77 13.34,88.94 13.54,89.15 13.75,89.42 13.95,89.80 14.15,90.80 14.15,90.80 13.95,91.80 13.75,92.18 13.54,92.45 13.34,92.66 13.14,92.83 12.94,92.97 12.73,93.08 12.53,93.17 12.33,93.24 12.13,93.29 11.93,93.33 11.72,93.35 11.52,94.05 11.32,94.05 11.12,94.05 10.91,94.05 10.71,94.05 10.51,94.05 10.31,94.05 10.11,94.05 9.90,94.05 9.70,94.05 9.50,94.05 9.30,94.05 9.10,94.05 8.89,94.05 8.69,94.05 8.49,94.05 8.29,94.05 8.08,94.05 7.88,94.05 7.68,94.05 7.48,94.05 7.28,94.05 7.07,94.05 6.87,94.05 6.67,94.05 6.47,94.05 6.26,94.05 6.06,94.05 5.86,94.05 5.66,94.05 5.46,94.05 5.25,94.05 5.05,94.05 4.85,94.05 4.65,94.05 4.44,94.05 4.24,94.05 4.04,94.05 3.84,94.05 3.64,94.05 3.43,94.05 3.23,94.05 3.03,94.05 2.83,94.05 2.62,94.05 2.42,94.05 2.22,94.05 2.02,94.05 1.82,94.05 1.61,94.05 1.41,94.05 1.21,94.05 1.01,94.05 0.80,94.05 0.60,94.05 0.40,94.05 0.20,94.05 -0.00,94.05 -0.21,94.05 -0.41,94.05 -0.61,94.05 -0.81,94.05 -1.01,94.05 -1.22,94.05 -1.42,93.75 -1.62,93.74 -1.82,93.72 -2.03,93.68 -2.23,93.63 -2.43,93.56 -2.63,93.47 -2.83,93.36 -3.04,93.23 -3.24,93.08 -3.44,92.89 -3.64,92.66 -3.85,92.36 -4.05,91.95" fill="#ffffff"/><path d="M5.4,90.4 Q8.8,86.9 12.9,87.6" fill="none" stroke="#1656b8" stroke-width="1.75" stroke-linecap="round"/></g><line x1="243.40" y1="94.40" x2="242.20" y2="100.20" stroke="#1656b8" stroke-width="2.0" stroke-linecap="round"/><line x1="248.20" y1="94.40" x2="247.00" y2="100.20" stroke="#1656b8" stroke-width="2.0" stroke-linecap="round"/><line x1="253.00" y1="94.40" x2="251.80" y2="100.20" stroke="#1656b8" stroke-width="2.0" stroke-linecap="round"/>
<text x="227.78" y="131.90" font-size="19.5" fill="#d6223f" textLength="22.91" lengthAdjust="spacingAndGlyphs" stroke="#d6223f" stroke-width="0.12">16</text>
<text x="250.59" y="120.70" font-size="10.6" fill="#d6223f" textLength="6.42" lengthAdjust="spacingAndGlyphs" stroke="#d6223f" stroke-width="0.2">o</text>
<text x="233.51" y="162.00" font-size="19.5" fill="#3aa7ea" textLength="11.45" lengthAdjust="spacingAndGlyphs" stroke="#3aa7ea" stroke-width="0.12">4</text>
<text x="244.86" y="150.80" font-size="10.6" fill="#3aa7ea" textLength="6.42" lengthAdjust="spacingAndGlyphs" stroke="#3aa7ea" stroke-width="0.2">o</text>
<text x="294.50" y="47.80" font-size="15.5" fill="#b3125a" text-anchor="middle" textLength="33.14" lengthAdjust="spacingAndGlyphs" stroke="#b3125a" stroke-width="0.15">Ned</text>
<text x="294.50" y="59.80" font-size="12.2" fill="#b3125a" text-anchor="middle" textLength="32.91" lengthAdjust="spacingAndGlyphs" stroke="#b3125a" stroke-width="0.24">05.10</text>
<g transform="translate(290.70,82.70)"><line x1="1.11" y1="-4.46" x2="2.32" y2="-9.31" stroke="#4a4a66" stroke-width="3.5" stroke-linecap="round"/><line x1="4.06" y1="-2.16" x2="8.48" y2="-4.51" stroke="#4a4a66" stroke-width="3.5" stroke-linecap="round"/><line x1="4.48" y1="1.03" x2="9.35" y2="2.16" stroke="#4a4a66" stroke-width="3.5" stroke-linecap="round"/><line x1="2.30" y1="3.98" x2="4.80" y2="8.31" stroke="#4a4a66" stroke-width="3.5" stroke-linecap="round"/><line x1="-1.03" y1="4.48" x2="-2.16" y2="9.35" stroke="#4a4a66" stroke-width="3.5" stroke-linecap="round"/><line x1="-4.02" y1="2.23" x2="-8.40" y2="4.65" stroke="#4a4a66" stroke-width="3.5" stroke-linecap="round"/><line x1="-4.42" y1="-1.27" x2="-9.23" y2="-2.65" stroke="#4a4a66" stroke-width="3.5" stroke-linecap="round"/><line x1="-2.44" y1="-3.90" x2="-5.09" y2="-8.14" stroke="#4a4a66" stroke-width="3.5" stroke-linecap="round"/><line x1="1.11" y1="-4.46" x2="2.32" y2="-9.31" stroke="#f6f600" stroke-width="2.2" stroke-linecap="round"/><line x1="4.06" y1="-2.16" x2="8.48" y2="-4.51" stroke="#f6f600" stroke-width="2.2" stroke-linecap="round"/><line x1="4.48" y1="1.03" x2="9.35" y2="2.16" stroke="#f6f600" stroke-width="2.2" stroke-linecap="round"/><line x1="2.30" y1="3.98" x2="4.80" y2="8.31" stroke="#f6f600" stroke-width="2.2" stroke-linecap="round"/><line x1="-1.03" y1="4.48" x2="-2.16" y2="9.35" stroke="#f6f600" stroke-width="2.2" stroke-linecap="round"/><line x1="-4.02" y1="2.23" x2="-8.40" y2="4.65" stroke="#f6f600" stroke-width="2.2" stroke-linecap="round"/><line x1="-4.42" y1="-1.27" x2="-9.23" y2="-2.65" stroke="#f6f600" stroke-width="2.2" stroke-linecap="round"/><line x1="-2.44" y1="-3.90" x2="-5.09" y2="-8.14" stroke="#f6f600" stroke-width="2.2" stroke-linecap="round"/><circle r="5.00" fill="#ffee00" stroke="#f39a1a" stroke-width="1.1"/><circle r="3.90" fill="#ffff10"/></g><g transform="translate(294.50,0)"><polygon points="-4.20,88.00 -4.00,86.67 -3.80,86.14 -3.59,85.75 -3.39,85.43 -3.19,85.16 -2.99,84.93 -2.79,84.73 -2.58,84.55 -2.38,84.39 -2.18,84.25 -1.98,84.12 -1.78,84.01 -1.58,83.91 -1.37,83.82 -1.17,83.75 -0.97,83.68 -0.77,83.63 -0.57,83.58 -0.36,83.55 -0.16,83.52 0.04,83.51 0.24,83.50 0.44,83.50 0.65,83.51 0.85,83.53 1.05,83.56 1.25,83.60 1.45,83.65 1.65,83.71 1.86,83.78 2.06,83.86 2.26,83.95 2.46,84.05 2.66,84.17 2.87,84.30 3.07,83.51 3.27,82.86 3.47,82.39 3.67,82.01 3.88,81.68 4.08,81.40 4.28,81.15 4.48,80.92 4.68,80.72 4.88,80.53 5.09,80.36 5.29,80.21 5.49,80.07 5.69,79.94 5.89,79.82 6.10,79.72 6.30,79.62 6.50,79.53 6.70,79.46 6.90,79.39 7.11,79.32 7.31,79.27 7.51,79.22 7.71,79.18 7.91,79.15 8.12,79.13 8.32,79.11 8.52,79.10 8.72,79.10 8.92,79.10 9.12,79.12 9.33,79.13 9.53,79.16 9.73,79.19 9.93,79.23 10.13,79.28 10.34,79.34 10.54,79.40 10.74,79.47 10.94,79.55 11.14,79.64 11.35,79.74 11.55,79.85 11.75,79.97 11.95,80.10 12.15,80.24 12.35,80.40 12.56,80.57 12.76,80.76 12.96,80.96 13.16,81.19 13.36,81.45 13.57,81.74 13.77,82.08 13.97,82.48 14.17,82.98 14.37,83.70 14.58,84.91 14.78,84.99 14.98,85.08 15.18,85.18 15.38,85.30 15.58,85.44 15.79,85.60 15.99,85.77 16.19,85.98 16.39,86.22 16.59,86.51 16.80,86.87 17.00,87.36 17.20,88.60 17.20,88.60 17.00,89.84 16.80,90.33 16.59,90.69 16.39,90.98 16.19,91.22 15.99,91.43 15.79,91.60 15.58,91.76 15.38,91.90 15.18,92.02 14.98,92.12 14.78,92.21 14.58,92.29 14.37,92.35 14.17,92.40 13.97,92.44 13.77,92.47 13.57,92.49 13.36,92.50 13.16,92.60 12.96,92.60 12.76,92.60 12.56,92.60 12.35,92.60 12.15,92.60 11.95,92.60 11.75,92.60 11.55,92.60 11.35,92.60 11.14,92.60 10.94,92.60 10.74,92.60 10.54,92.60 10.34,92.60 10.13,92.60 9.93,92.60 9.73,92.60 9.53,92.60 9.33,92.60 9.12,92.60 8.92,92.60 8.72,92.60 8.52,92.60 8.32,92.60 8.12,92.60 7.91,92.60 7.71,92.60 7.51,92.60 7.31,92.60 7.11,92.60 6.90,92.60 6.70,92.60 6.50,92.60 6.30,92.60 6.10,92.60 5.89,92.60 5.69,92.60 5.49,92.60 5.29,92.60 5.09,92.60 4.88,92.60 4.68,92.60 4.48,92.60 4.28,92.60 4.08,92.60 3.88,92.60 3.67,92.60 3.47,92.60 3.27,92.60 3.07,92.60 2.87,92.60 2.66,92.60 2.46,92.60 2.26,92.60 2.06,92.60 1.86,92.60 1.65,92.60 1.45,92.60 1.25,92.60 1.05,92.60 0.85,92.60 0.65,92.60 0.44,92.60 0.24,92.50 0.04,92.49 -0.16,92.48 -0.36,92.45 -0.57,92.42 -0.77,92.37 -0.97,92.32 -1.17,92.25 -1.37,92.18 -1.58,92.09 -1.78,91.99 -1.98,91.88 -2.18,91.75 -2.38,91.61 -2.58,91.45 -2.79,91.27 -2.99,91.07 -3.19,90.84 -3.39,90.57 -3.59,90.25 -3.80,89.86 -4.00,89.33 -4.20,88.00" fill="#1656b8"/><polygon points="-2.45,88.00 -2.25,86.97 -2.05,86.57 -1.85,86.28 -1.65,86.06 -1.44,85.87 -1.24,85.72 -1.04,85.60 -0.84,85.50 -0.64,85.42 -0.44,85.35 -0.24,85.30 -0.04,85.27 0.16,85.25 0.37,84.90 0.57,84.90 0.77,84.90 0.97,84.90 1.17,84.90 1.37,84.90 1.57,84.90 1.77,84.90 1.97,84.90 2.18,84.90 2.38,84.90 2.58,84.90 2.78,84.90 2.98,84.90 3.18,84.90 3.38,84.90 3.58,84.90 3.78,84.90 3.99,84.90 4.19,84.90 4.39,84.90 4.59,84.90 4.79,83.84 4.99,83.27 5.19,82.87 5.39,82.56 5.59,82.30 5.80,82.08 6.00,81.88 6.20,81.72 6.40,81.57 6.60,81.44 6.80,81.32 7.00,81.22 7.20,81.14 7.41,81.06 7.61,81.00 7.81,80.95 8.01,80.91 8.21,80.88 8.41,80.86 8.61,80.85 8.81,80.85 9.01,80.86 9.22,80.88 9.42,80.91 9.62,80.96 9.82,81.01 10.02,81.07 10.22,81.15 10.42,81.23 10.62,81.34 10.82,81.45 11.03,81.58 11.23,81.73 11.43,81.91 11.63,82.10 11.83,82.33 12.03,82.60 12.23,82.92 12.43,83.33 12.63,83.94 12.84,84.90 13.04,84.90 13.24,84.90 13.44,86.45 13.64,86.48 13.84,86.52 14.04,86.58 14.24,86.67 14.44,86.78 14.65,86.92 14.85,87.11 15.05,87.35 15.25,87.69 15.25,89.51 15.05,89.85 14.85,90.09 14.65,90.28 14.44,90.42 14.24,90.53 14.04,90.62 13.84,90.68 13.64,90.72 13.44,90.75 13.24,90.85 13.04,90.85 12.84,90.85 12.63,90.85 12.43,90.85 12.23,90.85 12.03,90.85 11.83,90.85 11.63,90.85 11.43,90.85 11.23,90.85 11.03,90.85 10.82,90.85 10.62,90.85 10.42,90.85 10.22,90.85 10.02,90.85 9.82,90.85 9.62,90.85 9.42,90.85 9.22,90.85 9.01,90.85 8.81,90.85 8.61,90.85 8.41,90.85 8.21,90.85 8.01,90.85 7.81,90.85 7.61,90.85 7.41,90.85 7.20,90.85 7.00,90.85 6.80,90.85 6.60,90.85 6.40,90.85 6.20,90.85 6.00,90.85 5.80,90.85 5.59,90.85 5.39,90.85 5.19,90.85 4.99,90.85 4.79,90.85 4.59,90.85 4.39,90.85 4.19,90.85 3.99,90.85 3.78,90.85 3.58,90.85 3.38,90.85 3.18,90.85 2.98,90.85 2.78,90.85 2.58,90.85 2.38,90.85 2.18,90.85 1.97,90.85 1.77,90.85 1.57,90.85 1.37,90.85 1.17,90.85 0.97,90.85 0.77,90.85 0.57,90.85 0.37,90.85 0.16,90.75 -0.04,90.73 -0.24,90.70 -0.44,90.65 -0.64,90.58 -0.84,90.50 -1.04,90.40 -1.24,90.28 -1.44,90.13 -1.65,89.94 -1.85,89.72 -2.05,89.43 -2.25,89.03 -2.45,88.00" fill="#ffffff"/><path d="M2.2,84.4 Q5.3,83.9 6.4,86.6" fill="none" stroke="#1656b8" stroke-width="1.75" stroke-linecap="round"/></g><line x1="301.20" y1="95.00" x2="300.10" y2="100.60" stroke="#1656b8" stroke-width="2.0" stroke-linecap="round"/><line x1="306.00" y1="95.00" x2="304.90" y2="100.60" stroke="#1656b8" stroke-width="2.0" stroke-linecap="round"/>
<text x="279.78" y="131.90" font-size="19.5" fill="#d6223f" textLength="22.91" lengthAdjust="spacingAndGlyphs" stroke="#d6223f" stroke-width="0.12">14</text>
<text x="302.59" y="120.70" font-size="10.6" fill="#d6223f" textLength="6.42" lengthAdjust="spacingAndGlyphs" stroke="#d6223f" stroke-width="0.2">o</text>
<text x="285.51" y="162.00" font-size="19.5" fill="#3aa7ea" textLength="11.45" lengthAdjust="spacingAndGlyphs" stroke="#3aa7ea" stroke-width="0.12">9</text>
<text x="296.86" y="150.80" font-size="10.6" fill="#3aa7ea" textLength="6.42" lengthAdjust="spacingAndGlyphs" stroke="#3aa7ea" stroke-width="0.2">o</text>
<text x="346.50" y="47.80" font-size="15.5" fill="#555555" text-anchor="middle" textLength="30.08" lengthAdjust="spacingAndGlyphs" stroke="#555555" stroke-width="0.15">Pon</text>
<text x="346.50" y="59.80" font-size="12.2" fill="#555555" text-anchor="middle" textLength="32.91" lengthAdjust="spacingAndGlyphs" stroke="#555555" stroke-width="0.15">06.10</text>
<g transform="translate(351.80,83.30)"><line x1="1.11" y1="-4.46" x2="2.40" y2="-9.61" stroke="#4a4a66" stroke-width="3.5" stroke-linecap="round"/><line x1="4.06" y1="-2.16" x2="8.74" y2="-4.65" stroke="#4a4a66" stroke-width="3.5" stroke-linecap="round"/><line x1="4.48" y1="1.03" x2="9.65" y2="2.23" stroke="#4a4a66" stroke-width="3.5" stroke-linecap="round"/><line x1="2.30" y1="3.98" x2="4.95" y2="8.57" stroke="#4a4a66" stroke-width="3.5" stroke-linecap="round"/><line x1="-1.03" y1="4.48" x2="-2.23" y2="9.65" stroke="#4a4a66" stroke-width="3.5" stroke-linecap="round"/><line x1="-4.02" y1="2.23" x2="-8.66" y2="4.80" stroke="#4a4a66" stroke-width="3.5" stroke-linecap="round"/><line x1="-4.42" y1="-1.27" x2="-9.52" y2="-2.73" stroke="#4a4a66" stroke-width="3.5" stroke-linecap="round"/><line x1="-2.44" y1="-3.90" x2="-5.25" y2="-8.40" stroke="#4a4a66" stroke-width="3.5" stroke-linecap="round"/><line x1="1.11" y1="-4.46" x2="2.40" y2="-9.61" stroke="#f6f600" stroke-width="2.2" stroke-linecap="round"/><line x1="4.06" y1="-2.16" x2="8.74" y2="-4.65" stroke="#f6f600" stroke-width="2.2" stroke-linecap="round"/><line x1="4.48" y1="1.03" x2="9.65" y2="2.23" stroke="#f6f600" stroke-width="2.2" stroke-linecap="round"/><line x1="2.30" y1="3.98" x2="4.95" y2="8.57" stroke="#f6f600" stroke-width="2.2" stroke-linecap="round"/><line x1="-1.03" y1="4.48" x2="-2.23" y2="9.65" stroke="#f6f600" stroke-width="2.2" stroke-linecap="round"/><line x1="-4.02" y1="2.23" x2="-8.66" y2="4.80" stroke="#f6f600" stroke-width="2.2" stroke-linecap="round"/><line x1="-4.42" y1="-1.27" x2="-9.52" y2="-2.73" stroke="#f6f600" stroke-width="2.2" stroke-linecap="round"/><line x1="-2.44" y1="-3.90" x2="-5.25" y2="-8.40" stroke="#f6f600" stroke-width="2.2" stroke-linecap="round"/><circle r="5.00" fill="#ffee00" stroke="#f39a1a" stroke-width="1.1"/><circle r="3.90" fill="#ffff10"/></g><g transform="translate(346.50,0)"><polygon points="-13.90,92.40 -13.70,90.51 -13.50,89.74 -13.30,89.16 -13.10,88.68 -12.90,88.27 -12.70,87.90 -12.49,87.57 -12.29,87.27 -12.09,86.99 -11.89,86.73 -11.69,86.49 -11.49,86.27 -11.29,86.06 -11.09,85.87 -10.89,85.68 -10.69,85.51 -10.49,85.34 -10.29,85.19 -10.09,85.04 -9.88,84.91 -9.68,84.78 -9.48,84.65 -9.28,84.54 -9.08,84.43 -8.88,84.33 -8.68,84.23 -8.48,84.14 -8.28,84.06 -8.08,83.98 -7.88,83.91 -7.68,83.84 -7.47,83.78 -7.27,83.72 -7.07,83.67 -6.87,83.62 -6.67,83.58 -6.47,83.54 -6.27,83.50 -6.07,83.48 -5.87,83.45 -5.67,83.43 -5.47,83.42 -5.27,83.41 -5.07,83.40 -4.86,83.40 -4.66,83.40 -4.46,83.41 -4.26,83.42 -4.06,83.44 -3.86,83.46 -3.66,83.49 -3.46,83.52 -3.26,83.55 -3.06,83.59 -2.86,83.64 -2.66,83.68 -2.46,83.74 -2.25,83.80 -2.05,83.86 -1.85,83.93 -1.65,84.01 -1.45,84.09 -1.25,84.17 -1.05,84.27 -0.85,84.36 -0.65,84.47 -0.45,84.58 -0.25,84.70 -0.05,84.82 0.16,84.95 0.36,85.09 0.56,85.24 0.76,85.40 0.96,85.57 1.16,85.75 1.36,85.93 1.56,86.13 1.76,86.35 1.96,86.58 2.16,86.82 2.36,87.09 2.56,87.37 2.77,87.68 2.97,88.03 3.17,88.41 3.37,88.84 3.57,89.35 3.77,89.78 3.97,89.62 4.17,89.48 4.37,89.36 4.57,89.25 4.77,89.15 4.97,89.06 5.17,88.98 5.38,88.92 5.58,88.86 5.78,88.81 5.98,88.77 6.18,88.74 6.38,88.72 6.58,88.71 6.78,88.70 6.98,88.70 7.18,88.72 7.38,88.74 7.58,88.76 7.79,88.80 7.99,88.85 8.19,88.90 8.39,88.97 8.59,89.05 8.79,89.13 8.99,89.23 9.19,89.34 9.39,89.46 9.59,89.60 9.79,89.75 9.99,89.92 10.19,90.11 10.40,90.32 10.60,90.56 10.80,90.84 11.00,91.17 11.20,91.58 11.40,92.13 11.60,93.50 11.60,93.50 11.40,94.87 11.20,95.42 11.00,95.83 10.80,96.16 10.60,96.44 10.40,96.68 10.19,96.89 9.99,97.08 9.79,97.25 9.59,97.40 9.39,97.54 9.19,97.66 8.99,97.77 8.79,97.87 8.59,97.95 8.39,98.03 8.19,98.10 7.99,98.15 7.79,98.20 7.58,98.24 7.38,98.26 7.18,98.28 6.98,98.30 6.78,98.30 6.58,98.30 6.38,98.30 6.18,98.30 5.98,98.30 5.78,98.30 5.58,98.30 5.38,98.30 5.17,98.30 4.97,98.30 4.77,98.30 4.57,98.30 4.37,98.30 4.17,98.30 3.97,98.30 3.77,98.30 3.57,98.30 3.37,98.30 3.17,98.30 2.97,98.30 2.77,98.30 2.56,98.30 2.36,98.30 2.16,98.30 1.96,98.30 1.76,98.30 1.56,98.30 1.36,98.30 1.16,98.30 0.96,98.30 0.76,98.30 0.56,98.30 0.36,98.30 0.16,98.30 -0.05,98.30 -0.25,98.30 -0.45,98.30 -0.65,98.30 -0.85,98.30 -1.05,98.30 -1.25,98.30 -1.45,98.30 -1.65,98.30 -1.85,98.30 -2.05,98.30 -2.25,98.30 -2.46,98.30 -2.66,98.30 -2.86,98.30 -3.06,98.30 -3.26,98.30 -3.46,98.30 -3.66,98.30 -3.86,98.30 -4.06,98.30 -4.26,98.30 -4.46,98.30 -4.66,98.30 -4.86,98.30 -5.07,98.30 -5.27,98.30 -5.47,98.30 -5.67,98.30 -5.87,98.30 -6.07,98.30 -6.27,98.30 -6.47,98.30 -6.67,98.30 -6.87,98.30 -7.07,98.30 -7.27,98.30 -7.47,98.30 -7.68,98.30 -7.88,98.30 -8.08,98.30 -8.28,98.30 -8.48,98.30 -8.68,98.30 -8.88,98.30 -9.08,98.30 -9.28,98.30 -9.48,98.30 -9.68,98.30 -9.88,98.30 -10.09,98.30 -10.29,98.30 -10.49,98.30 -10.69,98.30 -10.89,98.30 -11.09,98.30 -11.29,98.30 -11.49,98.30 -11.69,98.30 -11.89,98.07 -12.09,97.81 -12.29,97.53 -12.49,97.23 -12.70,96.90 -12.90,96.53 -13.10,96.12 -13.30,95.64 -13.50,95.06 -13.70,94.29 -13.90,92.40" fill="#1656b8"/><polygon points="-12.15,92.40 -11.95,90.71 -11.75,90.03 -11.55,89.51 -11.35,89.09 -11.15,88.73 -10.95,88.41 -10.75,88.12 -10.55,87.86 -10.35,87.62 -10.15,87.40 -9.95,87.20 -9.75,87.01 -9.55,86.84 -9.35,86.68 -9.15,86.53 -8.95,86.39 -8.75,86.26 -8.55,86.14 -8.35,86.02 -8.15,85.92 -7.95,85.82 -7.75,85.73 -7.55,85.65 -7.35,85.58 -7.15,85.51 -6.95,85.45 -6.75,85.39 -6.55,85.34 -6.35,85.30 -6.15,85.26 -5.95,85.23 -5.75,85.20 -5.55,85.18 -5.35,85.16 -5.15,85.15 -4.95,85.15 -4.75,85.15 -4.55,85.16 -4.35,85.17 -4.15,85.19 -3.95,85.21 -3.75,85.24 -3.55,85.28 -3.35,85.32 -3.15,85.36 -2.95,85.42 -2.75,85.48 -2.55,85.54 -2.35,85.61 -2.15,85.69 -1.95,85.78 -1.75,85.87 -1.55,85.97 -1.35,86.08 -1.15,86.20 -0.95,86.32 -0.75,86.46 -0.55,86.60 -0.35,86.76 -0.15,86.92 0.05,87.10 0.25,87.30 0.45,87.51 0.65,87.74 0.85,87.98 1.05,88.26 1.25,88.56 1.45,88.90 1.65,89.29 1.85,89.75 2.05,90.34 2.25,91.20 2.45,92.40 2.65,92.40 2.85,92.40 3.05,92.40 3.25,92.40 3.45,92.40 3.65,92.40 3.85,92.40 4.05,92.18 4.25,91.83 4.45,91.56 4.65,91.34 4.85,91.15 5.05,91.00 5.25,90.87 5.45,90.77 5.65,90.68 5.85,90.60 6.05,90.54 6.25,90.50 6.45,90.47 6.65,90.45 6.85,90.45 7.05,90.46 7.25,90.48 7.45,90.52 7.65,90.57 7.85,90.64 8.05,90.72 8.25,90.82 8.45,90.93 8.65,91.08 8.85,91.24 9.05,91.44 9.25,91.68 9.45,91.99 9.65,92.41 9.85,93.50 9.85,93.50 9.65,94.59 9.45,95.01 9.25,95.32 9.05,95.56 8.85,95.76 8.65,95.92 8.45,96.07 8.25,96.18 8.05,96.28 7.85,96.36 7.65,96.43 7.45,96.48 7.25,96.52 7.05,96.54 6.85,96.55 6.65,96.55 6.45,96.55 6.25,96.55 6.05,96.55 5.85,96.55 5.65,96.55 5.45,96.55 5.25,96.55 5.05,96.55 4.85,96.55 4.65,96.55 4.45,96.55 4.25,96.55 4.05,96.55 3.85,96.55 3.65,96.55 3.45,96.55 3.25,96.55 3.05,96.55 2.85,96.55 2.65,96.55 2.45,96.55 2.25,96.55 2.05,96.55 1.85,96.55 1.65,96.55 1.45,96.55 1.25,96.55 1.05,96.55 0.85,96.55 0.65,96.55 0.45,96.55 0.25,96.55 0.05,96.55 -0.15,96.55 -0.35,96.55 -0.55,96.55 -0.75,96.55 -0.95,96.55 -1.15,96.55 -1.35,96.55 -1.55,96.55 -1.75,96.55 -1.95,96.55 -2.15,96.55 -2.35,96.55 -2.55,96.55 -2.75,96.55 -2.95,96.55 -3.15,96.55 -3.35,96.55 -3.55,96.55 -3.75,96.55 -3.95,96.55 -4.15,96.55 -4.35,96.55 -4.55,96.55 -4.75,96.55 -4.95,96.55 -5.15,96.55 -5.35,96.55 -5.55,96.55 -5.75,96.55 -5.95,96.55 -6.15,96.55 -6.35,96.55 -6.55,96.55 -6.75,96.55 -6.95,96.55 -7.15,96.55 -7.35,96.55 -7.55,96.55 -7.75,96.55 -7.95,96.55 -8.15,96.55 -8.35,96.55 -8.55,96.55 -8.75,96.55 -8.95,96.55 -9.15,96.55 -9.35,96.55 -9.55,96.55 -9.75,96.55 -9.95,96.55 -10.15,96.55 -10.35,96.55 -10.55,96.55 -10.75,96.55 -10.95,96.39 -11.15,96.07 -11.35,95.71 -11.55,95.29 -11.75,94.77 -11.95,94.09 -12.15,92.40" fill="#f3ecdc"/><polygon points="-11.15,92.40 -10.95,90.83 -10.75,90.20 -10.55,89.73 -10.35,89.34 -10.15,89.01 -9.95,88.72 -9.75,88.46 -9.55,88.22 -9.35,88.01 -9.15,87.82 -8.95,87.64 -8.75,87.48 -8.55,87.33 -8.35,87.19 -8.15,87.06 -7.95,86.94 -7.75,86.84 -7.55,86.74 -7.35,86.65 -7.15,86.57 -6.95,86.50 -6.75,86.43 -6.55,86.37 -6.35,86.32 -6.15,86.28 -5.95,86.24 -5.75,86.21 -5.55,86.18 -5.35,86.17 -5.15,86.16 -4.95,86.15 -4.75,86.15 -4.55,86.16 -4.35,86.17 -4.15,86.20 -3.95,86.22 -3.75,86.26 -3.55,86.30 -3.35,86.35 -3.15,86.40 -2.95,86.46 -2.75,86.53 -2.55,86.61 -2.35,86.69 -2.15,86.79 -1.95,86.89 -1.75,87.00 -1.55,87.12 -1.35,87.26 -1.15,87.40 -0.95,87.56 -0.75,87.73 -0.55,87.91 -0.35,88.12 -0.15,88.34 0.05,88.58 0.25,88.86 0.45,89.17 0.65,89.53 0.85,89.95 1.05,90.49 1.25,91.29 1.45,92.40 1.65,92.40 1.85,92.40 2.05,92.40 2.25,92.40 2.45,92.40 2.65,92.40 2.85,92.40 3.05,92.40 3.25,92.40 3.45,92.40 3.65,92.40 3.85,92.40 4.05,92.40 4.25,92.40 4.45,92.40 4.65,92.40 4.85,92.40 5.05,92.40 5.25,92.16 5.45,91.96 5.65,91.80 5.85,91.68 6.05,91.59 6.25,91.53 6.45,91.48 6.65,91.46 6.85,91.45 7.05,91.47 7.25,91.50 7.45,91.56 7.65,91.63 7.85,91.74 8.05,91.88 8.25,92.05 8.45,92.28 8.65,92.62 8.85,93.50 8.85,93.50 8.65,94.38 8.45,94.72 8.25,94.95 8.05,95.12 7.85,95.26 7.65,95.37 7.45,95.44 7.25,95.50 7.05,95.53 6.85,95.55 6.65,95.55 6.45,95.55 6.25,95.55 6.05,95.55 5.85,95.55 5.65,95.55 5.45,95.55 5.25,95.55 5.05,95.55 4.85,95.55 4.65,95.55 4.45,95.55 4.25,95.55 4.05,95.55 3.85,95.55 3.65,95.55 3.45,95.55 3.25,95.55 3.05,95.55 2.85,95.55 2.65,95.55 2.45,95.55 2.25,95.55 2.05,95.55 1.85,95.55 1.65,95.55 1.45,95.55 1.25,95.55 1.05,95.55 0.85,95.55 0.65,95.55 0.45,95.55 0.25,95.55 0.05,95.55 -0.15,95.55 -0.35,95.55 -0.55,95.55 -0.75,95.55 -0.95,95.55 -1.15,95.55 -1.35,95.55 -1.55,95.55 -1.75,95.55 -1.95,95.55 -2.15,95.55 -2.35,95.55 -2.55,95.55 -2.75,95.55 -2.95,95.55 -3.15,95.55 -3.35,95.55 -3.55,95.55 -3.75,95.55 -3.95,95.55 -4.15,95.55 -4.35,95.55 -4.55,95.55 -4.75,95.55 -4.95,95.55 -5.15,95.55 -5.35,95.55 -5.55,95.55 -5.75,95.55 -5.95,95.55 -6.15,95.55 -6.35,95.55 -6.55,95.55 -6.75,95.55 -6.95,95.55 -7.15,95.55 -7.35,95.55 -7.55,95.55 -7.75,95.55 -7.95,95.55 -8.15,95.55 -8.35,95.55 -8.55,95.55 -8.75,95.55 -8.95,95.55 -9.15,95.55 -9.35,95.55 -9.55,95.55 -9.75,95.55 -9.95,95.55 -10.15,95.55 -10.35,95.46 -10.55,95.07 -10.75,94.60 -10.95,93.97 -11.15,92.40" fill="#d6d6d6"/><path d="M-1.3,91.3 Q2.5,87.8 7.7,89.0" fill="none" stroke="#1656b8" stroke-width="1.75" stroke-linecap="round"/></g>
<text x="331.78" y="131.90" font-size="19.5" fill="#d6223f" textLength="22.91" lengthAdjust="spacingAndGlyphs" stroke="#d6223f" stroke-width="0.12">17</text>
<text x="354.59" y="120.70" font-size="10.6" fill="#d6223f" textLength="6.42" lengthAdjust="spacingAndGlyphs" stroke="#d6223f" stroke-width="0.2">o</text>
<text x="337.51" y="162.00" font-size="19.5" fill="#3aa7ea" textLength="11.45" lengthAdjust="spacingAndGlyphs" stroke="#3aa7ea" stroke-width="0.12">8</text>
<text x="348.86" y="150.80" font-size="10.6" fill="#3aa7ea" textLength="6.42" lengthAdjust="spacingAndGlyphs" stroke="#3aa7ea" stroke-width="0.2">o</text>
<text x="398.50" y="47.80" font-size="15.5" fill="#555555" text-anchor="middle" textLength="24.28" lengthAdjust="spacingAndGlyphs" stroke="#555555" stroke-width="0.15">Tor</text>
<text x="398.50" y="59.80" font-size="12.2" fill="#555555" text-anchor="middle" textLength="32.91" lengthAdjust="spacingAndGlyphs" stroke="#555555" stroke-width="0.15">07.10</text>
<g transform="translate(395.10,85.70)"><line x1="1.11" y1="-4.46" x2="2.37" y2="-9.51" stroke="#4a4a66" stroke-width="3.5" stroke-linecap="round"/><line x1="4.06" y1="-2.16" x2="8.65" y2="-4.60" stroke="#4a4a66" stroke-width="3.5" stroke-linecap="round"/><line x1="4.48" y1="1.03" x2="9.55" y2="2.20" stroke="#4a4a66" stroke-width="3.5" stroke-linecap="round"/><line x1="2.30" y1="3.98" x2="4.90" y2="8.49" stroke="#4a4a66" stroke-width="3.5" stroke-linecap="round"/><line x1="-1.03" y1="4.48" x2="-2.20" y2="9.55" stroke="#4a4a66" stroke-width="3.5" stroke-linecap="round"/><line x1="-4.02" y1="2.23" x2="-8.57" y2="4.75" stroke="#4a4a66" stroke-width="3.5" stroke-linecap="round"/><line x1="-4.42" y1="-1.27" x2="-9.42" y2="-2.70" stroke="#4a4a66" stroke-width="3.5" stroke-linecap="round"/><line x1="-2.44" y1="-3.90" x2="-5.19" y2="-8.31" stroke="#4a4a66" stroke-width="3.5" stroke-linecap="round"/><line x1="1.11" y1="-4.46" x2="2.37" y2="-9.51" stroke="#f6f600" stroke-width="2.2" stroke-linecap="round"/><line x1="4.06" y1="-2.16" x2="8.65" y2="-4.60" stroke="#f6f600" stroke-width="2.2" stroke-linecap="round"/><line x1="4.48" y1="1.03" x2="9.55" y2="2.20" stroke="#f6f600" stroke-width="2.2" stroke-linecap="round"/><line x1="2.30" y1="3.98" x2="4.90" y2="8.49" stroke="#f6f600" stroke-width="2.2" stroke-linecap="round"/><line x1="-1.03" y1="4.48" x2="-2.20" y2="9.55" stroke="#f6f600" stroke-width="2.2" stroke-linecap="round"/><line x1="-4.02" y1="2.23" x2="-8.57" y2="4.75" stroke="#f6f600" stroke-width="2.2" stroke-linecap="round"/><line x1="-4.42" y1="-1.27" x2="-9.42" y2="-2.70" stroke="#f6f600" stroke-width="2.2" stroke-linecap="round"/><line x1="-2.44" y1="-3.90" x2="-5.19" y2="-8.31" stroke="#f6f600" stroke-width="2.2" stroke-linecap="round"/><circle r="5.20" fill="#ffee00" stroke="#f39a1a" stroke-width="1.1"/><circle r="4.10" fill="#ffff10"/></g><g transform="translate(398.50,0)"><polygon points="-4.60,93.40 -4.40,92.27 -4.20,91.82 -4.00,91.50 -3.80,91.24 -3.59,91.03 -3.39,90.85 -3.19,90.70 -2.99,90.57 -2.79,90.46 -2.59,90.36 -2.39,90.28 -2.19,90.22 -1.99,90.17 -1.78,90.14 -1.58,90.11 -1.38,90.10 -1.18,90.10 -0.98,90.12 -0.78,89.16 -0.58,88.53 -0.38,88.09 -0.17,87.75 0.03,87.47 0.23,87.22 0.43,87.01 0.63,86.82 0.83,86.65 1.03,86.50 1.23,86.37 1.43,86.26 1.64,86.15 1.84,86.06 2.04,85.98 2.24,85.91 2.44,85.85 2.64,85.80 2.84,85.76 3.04,85.73 3.24,85.71 3.45,85.70 3.65,85.70 3.85,85.71 4.05,85.72 4.25,85.75 4.45,85.78 4.65,85.82 4.85,85.88 5.06,85.94 5.26,86.02 5.46,86.10 5.66,86.20 5.86,86.31 6.06,86.43 6.26,86.57 6.46,86.73 6.66,86.90 6.87,87.10 7.07,87.33 7.27,87.59 7.47,87.90 7.67,88.28 7.87,88.78 8.07,89.01 8.27,88.97 8.47,88.94 8.68,88.91 8.88,88.90 9.08,88.90 9.28,88.91 9.48,88.93 9.68,88.96 9.88,89.00 10.08,89.05 10.29,89.12 10.49,89.19 10.69,89.28 10.89,89.39 11.09,89.51 11.29,89.64 11.49,89.80 11.69,89.98 11.89,90.19 12.10,90.43 12.30,90.72 12.50,91.07 12.70,91.56 12.70,94.04 12.50,94.53 12.30,94.88 12.10,95.17 11.89,95.41 11.69,95.62 11.49,95.80 11.29,95.96 11.09,96.09 10.89,96.21 10.69,96.32 10.49,96.41 10.29,96.48 10.08,96.55 9.88,96.60 9.68,96.64 9.48,96.67 9.28,96.69 9.08,96.70 8.88,96.70 8.68,96.70 8.47,96.70 8.27,96.70 8.07,96.70 7.87,96.70 7.67,96.70 7.47,96.70 7.27,96.70 7.07,96.70 6.87,96.70 6.66,96.70 6.46,96.70 6.26,96.70 6.06,96.70 5.86,96.70 5.66,96.70 5.46,96.70 5.26,96.70 5.06,96.70 4.85,96.70 4.65,96.70 4.45,96.70 4.25,96.70 4.05,96.70 3.85,96.70 3.65,96.70 3.45,96.70 3.24,96.70 3.04,96.70 2.84,96.70 2.64,96.70 2.44,96.70 2.24,96.70 2.04,96.70 1.84,96.70 1.64,96.70 1.43,96.70 1.23,96.70 1.03,96.70 0.83,96.70 0.63,96.70 0.43,96.70 0.23,96.70 0.03,96.70 -0.17,96.70 -0.38,96.70 -0.58,96.70 -0.78,96.70 -0.98,96.70 -1.18,96.70 -1.38,96.70 -1.58,96.69 -1.78,96.66 -1.99,96.63 -2.19,96.58 -2.39,96.52 -2.59,96.44 -2.79,96.34 -2.99,96.23 -3.19,96.10 -3.39,95.95 -3.59,95.77 -3.80,95.56 -4.00,95.30 -4.20,94.98 -4.40,94.53 -4.60,93.40" fill="#1656b8"/><polygon points="-2.85,93.40 -2.65,92.64 -2.45,92.36 -2.25,92.18 -2.05,92.04 -1.85,91.95 -1.65,91.89 -1.45,91.86 -1.25,90.20 -1.05,90.20 -0.85,90.20 -0.65,90.20 -0.45,90.20 -0.25,90.20 -0.05,90.20 0.15,90.20 0.35,90.20 0.55,90.20 0.75,90.20 0.95,89.47 1.15,88.95 1.35,88.62 1.55,88.37 1.75,88.17 1.95,88.00 2.15,87.86 2.35,87.75 2.55,87.66 2.75,87.58 2.95,87.53 3.15,87.49 3.35,87.46 3.55,87.45 3.75,87.45 3.95,87.47 4.15,87.51 4.35,87.55 4.55,87.62 4.75,87.70 4.95,87.80 5.15,87.93 5.35,88.08 5.55,88.26 5.75,88.49 5.95,88.77 6.15,89.17 6.35,90.20 6.55,90.20 6.75,90.20 6.95,90.20 7.15,90.20 7.35,90.20 7.55,90.20 7.75,90.20 7.95,90.20 8.15,90.20 8.35,90.20 8.55,90.20 8.75,90.20 8.95,90.20 9.15,90.66 9.35,90.68 9.55,90.72 9.75,90.79 9.95,90.87 10.15,90.98 10.35,91.13 10.55,91.31 10.75,91.55 10.95,91.89 10.95,93.71 10.75,94.05 10.55,94.29 10.35,94.47 10.15,94.62 9.95,94.73 9.75,94.81 9.55,94.88 9.35,94.92 9.15,94.94 8.95,94.95 8.75,94.95 8.55,94.95 8.35,94.95 8.15,94.95 7.95,94.95 7.75,94.95 7.55,94.95 7.35,94.95 7.15,94.95 6.95,94.95 6.75,94.95 6.55,94.95 6.35,94.95 6.15,94.95 5.95,94.95 5.75,94.95 5.55,94.95 5.35,94.95 5.15,94.95 4.95,94.95 4.75,94.95 4.55,94.95 4.35,94.95 4.15,94.95 3.95,94.95 3.75,94.95 3.55,94.95 3.35,94.95 3.15,94.95 2.95,94.95 2.75,94.95 2.55,94.95 2.35,94.95 2.15,94.95 1.95,94.95 1.75,94.95 1.55,94.95 1.35,94.95 1.15,94.95 0.95,94.95 0.75,94.95 0.55,94.95 0.35,94.95 0.15,94.95 -0.05,94.95 -0.25,94.95 -0.45,94.95 -0.65,94.95 -0.85,94.95 -1.05,94.95 -1.25,94.95 -1.45,94.94 -1.65,94.91 -1.85,94.85 -2.05,94.76 -2.25,94.62 -2.45,94.44 -2.65,94.16 -2.85,93.40" fill="#ffffff"/></g>
<text x="383.78" y="131.90" font-size="19.5" fill="#d6223f" textLength="22.91" lengthAdjust="spacingAndGlyphs" stroke="#d6223f" stroke-width="0.12">18</text>
<text x="406.59" y="120.70" font-size="10.6" fill="#d6223f" textLength="6.42" lengthAdjust="spacingAndGlyphs" stroke="#d6223f" stroke-width="0.2">o</text>
<text x="389.51" y="162.00" font-size="19.5" fill="#3aa7ea" textLength="11.45" lengthAdjust="spacingAndGlyphs" stroke="#3aa7ea" stroke-width="0.12">7</text>
<text x="400.86" y="150.80" font-size="10.6" fill="#3aa7ea" textLength="6.42" lengthAdjust="spacingAndGlyphs" stroke="#3aa7ea" stroke-width="0.2">o</text>
<text x="450.50" y="47.80" font-size="15.5" fill="#555555" text-anchor="middle" textLength="27.18" lengthAdjust="spacingAndGlyphs" stroke="#555555" stroke-width="0.15">Sre</text>
<text x="450.50" y="59.80" font-size="12.2" fill="#555555" text-anchor="middle" textLength="32.91" lengthAdjust="spacingAndGlyphs" stroke="#555555" stroke-width="0.15">08.10</text>
<g transform="translate(450.35,85.55)"><line x1="1.11" y1="-4.46" x2="2.40" y2="-9.61" stroke="#4a4a66" stroke-width="3.5" stroke-linecap="round"/><line x1="4.06" y1="-2.16" x2="8.74" y2="-4.65" stroke="#4a4a66" stroke-width="3.5" stroke-linecap="round"/><line x1="4.48" y1="1.03" x2="9.65" y2="2.23" stroke="#4a4a66" stroke-width="3.5" stroke-linecap="round"/><line x1="2.30" y1="3.98" x2="4.95" y2="8.57" stroke="#4a4a66" stroke-width="3.5" stroke-linecap="round"/><line x1="-1.03" y1="4.48" x2="-2.23" y2="9.65" stroke="#4a4a66" stroke-width="3.5" stroke-linecap="round"/><line x1="-4.02" y1="2.23" x2="-8.66" y2="4.80" stroke="#4a4a66" stroke-width="3.5" stroke-linecap="round"/><line x1="-4.42" y1="-1.27" x2="-9.52" y2="-2.73" stroke="#4a4a66" stroke-width="3.5" stroke-linecap="round"/><line x1="-2.44" y1="-3.90" x2="-5.25" y2="-8.40" stroke="#4a4a66" stroke-width="3.5" stroke-linecap="round"/><line x1="1.11" y1="-4.46" x2="2.40" y2="-9.61" stroke="#f6f600" stroke-width="2.2" stroke-linecap="round"/><line x1="4.06" y1="-2.16" x2="8.74" y2="-4.65" stroke="#f6f600" stroke-width="2.2" stroke-linecap="round"/><line x1="4.48" y1="1.03" x2="9.65" y2="2.23" stroke="#f6f600" stroke-width="2.2" stroke-linecap="round"/><line x1="2.30" y1="3.98" x2="4.95" y2="8.57" stroke="#f6f600" stroke-width="2.2" stroke-linecap="round"/><line x1="-1.03" y1="4.48" x2="-2.23" y2="9.65" stroke="#f6f600" stroke-width="2.2" stroke-linecap="round"/><line x1="-4.02" y1="2.23" x2="-8.66" y2="4.80" stroke="#f6f600" stroke-width="2.2" stroke-linecap="round"/><line x1="-4.42" y1="-1.27" x2="-9.52" y2="-2.73" stroke="#f6f600" stroke-width="2.2" stroke-linecap="round"/><line x1="-2.44" y1="-3.90" x2="-5.25" y2="-8.40" stroke="#f6f600" stroke-width="2.2" stroke-linecap="round"/><circle r="5.00" fill="#ffee00" stroke="#f39a1a" stroke-width="1.1"/><circle r="3.90" fill="#ffff10"/></g>
<text x="435.78" y="131.90" font-size="19.5" fill="#d6223f" textLength="22.91" lengthAdjust="spacingAndGlyphs" stroke="#d6223f" stroke-width="0.12">19</text>
<text x="458.59" y="120.70" font-size="10.6" fill="#d6223f" textLength="6.42" lengthAdjust="spacingAndGlyphs" stroke="#d6223f" stroke-width="0.2">o</text>
<text x="435.78" y="162.00" font-size="19.5" fill="#3aa7ea" textLength="22.91" lengthAdjust="spacingAndGlyphs" stroke="#3aa7ea" stroke-width="0.12">10</text>
<text x="458.59" y="150.80" font-size="10.6" fill="#3aa7ea" textLength="6.42" lengthAdjust="spacingAndGlyphs" stroke="#3aa7ea" stroke-width="0.2">o</text>
<text x="502.50" y="47.80" font-size="15.5" fill="#555555" text-anchor="middle" textLength="28.29" lengthAdjust="spacingAndGlyphs" stroke="#555555" stroke-width="0.15">Čet</text>
<text x="502.50" y="59.80" font-size="12.2" fill="#555555" text-anchor="middle" textLength="32.91" lengthAdjust="spacingAndGlyphs" stroke="#555555" stroke-width="0.15">09.10</text>
<g transform="translate(502.35,85.55)"><line x1="1.11" y1="-4.46" x2="2.40" y2="-9.61" stroke="#4a4a66" stroke-width="3.5" stroke-linecap="round"/><line x1="4.06" y1="-2.16" x2="8.74" y2="-4.65" stroke="#4a4a66" stroke-width="3.5" stroke-linecap="round"/><line x1="4.48" y1="1.03" x2="9.65" y2="2.23" stroke="#4a4a66" stroke-width="3.5" stroke-linecap="round"/><line x1="2.30" y1="3.98" x2="4.95" y2="8.57" stroke="#4a4a66" stroke-width="3.5" stroke-linecap="round"/><line x1="-1.03" y1="4.48" x2="-2.23" y2="9.65" stroke="#4a4a66" stroke-width="3.5" stroke-linecap="round"/><line x1="-4.02" y1="2.23" x2="-8.66" y2="4.80" stroke="#4a4a66" stroke-width="3.5" stroke-linecap="round"/><line x1="-4.42" y1="-1.27" x2="-9.52" y2="-2.73" stroke="#4a4a66" stroke-width="3.5" stroke-linecap="round"/><line x1="-2.44" y1="-3.90" x2="-5.25" y2="-8.40" stroke="#4a4a66" stroke-width="3.5" stroke-linecap="round"/><line x1="1.11" y1="-4.46" x2="2.40" y2="-9.61" stroke="#f6f600" stroke-width="2.2" stroke-linecap="round"/><line x1="4.06" y1="-2.16" x2="8.74" y2="-4.65" stroke="#f6f600" stroke-width="2.2" stroke-linecap="round"/><line x1="4.48" y1="1.03" x2="9.65" y2="2.23" stroke="#f6f600" stroke-width="2.2" stroke-linecap="round"/><line x1="2.30" y1="3.98" x2="4.95" y2="8.57" stroke="#f6f600" stroke-width="2.2" stroke-linecap="round"/><line x1="-1.03" y1="4.48" x2="-2.23" y2="9.65" stroke="#f6f600" stroke-width="2.2" stroke-linecap="round"/><line x1="-4.02" y1="2.23" x2="-8.66" y2="4.80" stroke="#f6f600" stroke-width="2.2" stroke-linecap="round"/><line x1="-4.42" y1="-1.27" x2="-9.52" y2="-2.73" stroke="#f6f600" stroke-width="2.2" stroke-linecap="round"/><line x1="-2.44" y1="-3.90" x2="-5.25" y2="-8.40" stroke="#f6f600" stroke-width="2.2" stroke-linecap="round"/><circle r="5.00" fill="#ffee00" stroke="#f39a1a" stroke-width="1.1"/><circle r="3.90" fill="#ffff10"/></g>
<text x="487.78" y="131.90" font-size="19.5" fill="#d6223f" textLength="22.91" lengthAdjust="spacingAndGlyphs" stroke="#d6223f" stroke-width="0.12">18</text>
<text x="510.59" y="120.70" font-size="10.6" fill="#d6223f" textLength="6.42" lengthAdjust="spacingAndGlyphs" stroke="#d6223f" stroke-width="0.2">o</text>
<text x="487.78" y="162.00" font-size="19.5" fill="#3aa7ea" textLength="22.91" lengthAdjust="spacingAndGlyphs" stroke="#3aa7ea" stroke-width="0.12">11</text>
<text x="510.59" y="150.80" font-size="10.6" fill="#3aa7ea" textLength="6.42" lengthAdjust="spacingAndGlyphs" stroke="#3aa7ea" stroke-width="0.2">o</text>
<text x="554.50" y="47.80" font-size="15.5" fill="#555555" text-anchor="middle" textLength="26.11" lengthAdjust="spacingAndGlyphs" stroke="#555555" stroke-width="0.15">Pet</text>
<text x="554.50" y="59.80" font-size="12.2" fill="#555555" text-anchor="middle" textLength="32.91" lengthAdjust="spacingAndGlyphs" stroke="#555555" stroke-width="0.15">10.10</text>
<g transform="translate(554.35,85.55)"><line x1="1.11" y1="-4.46" x2="2.40" y2="-9.61" stroke="#4a4a66" stroke-width="3.5" stroke-linecap="round"/><line x1="4.06" y1="-2.16" x2="8.74" y2="-4.65" stroke="#4a4a66" stroke-width="3.5" stroke-linecap="round"/><line x1="4.48" y1="1.03" x2="9.65" y2="2.23" stroke="#4a4a66" stroke-width="3.5" stroke-linecap="round"/><line x1="2.30" y1="3.98" x2="4.95" y2="8.57" stroke="#4a4a66" stroke-width="3.5" stroke-linecap="round"/><line x1="-1.03" y1="4.48" x2="-2.23" y2="9.65" stroke="#4a4a66" stroke-width="3.5" stroke-linecap="round"/><line x1="-4.02" y1="2.23" x2="-8.66" y2="4.80" stroke="#4a4a66" stroke-width="3.5" stroke-linecap="round"/><line x1="-4.42" y1="-1.27" x2="-9.52" y2="-2.73" stroke="#4a4a66" stroke-width="3.5" stroke-linecap="round"/><line x1="-2.44" y1="-3.90" x2="-5.25" y2="-8.40" stroke="#4a4a66" stroke-width="3.5" stroke-linecap="round"/><line x1="1.11" y1="-4.46" x2="2.40" y2="-9.61" stroke="#f6f600" stroke-width="2.2" stroke-linecap="round"/><line x1="4.06" y1="-2.16" x2="8.74" y2="-4.65" stroke="#f6f600" stroke-width="2.2" stroke-linecap="round"/><line x1="4.48" y1="1.03" x2="9.65" y2="2.23" stroke="#f6f600" stroke-width="2.2" stroke-linecap="round"/><line x1="2.30" y1="3.98" x2="4.95" y2="8.57" stroke="#f6f600" stroke-width="2.2" stroke-linecap="round"/><line x1="-1.03" y1="4.48" x2="-2.23" y2="9.65" stroke="#f6f600" stroke-width="2.2" stroke-linecap="round"/><line x1="-4.02" y1="2.23" x2="-8.66" y2="4.80" stroke="#f6f600" stroke-width="2.2" stroke-linecap="round"/><line x1="-4.42" y1="-1.27" x2="-9.52" y2="-2.73" stroke="#f6f600" stroke-width="2.2" stroke-linecap="round"/><line x1="-2.44" y1="-3.90" x2="-5.25" y2="-8.40" stroke="#f6f600" stroke-width="2.2" stroke-linecap="round"/><circle r="5.00" fill="#ffee00" stroke="#f39a1a" stroke-width="1.1"/><circle r="3.90" fill="#ffff10"/></g>
<text x="539.78" y="131.90" font-size="19.5" fill="#d6223f" textLength="22.91" lengthAdjust="spacingAndGlyphs" stroke="#d6223f" stroke-width="0.12">19</text>
<text x="562.59" y="120.70" font-size="10.6" fill="#d6223f" textLength="6.42" lengthAdjust="spacingAndGlyphs" stroke="#d6223f" stroke-width="0.2">o</text>
<text x="539.78" y="162.00" font-size="19.5" fill="#3aa7ea" textLength="22.91" lengthAdjust="spacingAndGlyphs" stroke="#3aa7ea" stroke-width="0.12">10</text>
<text x="562.59" y="150.80" font-size="10.6" fill="#3aa7ea" textLength="6.42" lengthAdjust="spacingAndGlyphs" stroke="#3aa7ea" stroke-width="0.2">o</text>
<text x="606.50" y="47.80" font-size="15.5" fill="#b3125a" text-anchor="middle" textLength="31.21" lengthAdjust="spacingAndGlyphs" stroke="#b3125a" stroke-width="0.15">Sob</text>
<text x="606.50" y="59.80" font-size="12.2" fill="#b3125a" text-anchor="middle" textLength="32.91" lengthAdjust="spacingAndGlyphs" stroke="#b3125a" stroke-width="0.24">11.10</text>
<g transform="translate(606.35,85.55)"><line x1="1.11" y1="-4.46" x2="2.40" y2="-9.61" stroke="#4a4a66" stroke-width="3.5" stroke-linecap="round"/><line x1="4.06" y1="-2.16" x2="8.74" y2="-4.65" stroke="#4a4a66" stroke-width="3.5" stroke-linecap="round"/><line x1="4.48" y1="1.03" x2="9.65" y2="2.23" stroke="#4a4a66" stroke-width="3.5" stroke-linecap="round"/><line x1="2.30" y1="3.98" x2="4.95" y2="8.57" stroke="#4a4a66" stroke-width="3.5" stroke-linecap="round"/><line x1="-1.03" y1="4.48" x2="-2.23" y2="9.65" stroke="#4a4a66" stroke-width="3.5" stroke-linecap="round"/><line x1="-4.02" y1="2.23" x2="-8.66" y2="4.80" stroke="#4a4a66" stroke-width="3.5" stroke-linecap="round"/><line x1="-4.42" y1="-1.27" x2="-9.52" y2="-2.73" stroke="#4a4a66" stroke-width="3.5" stroke-linecap="round"/><line x1="-2.44" y1="-3.90" x2="-5.25" y2="-8.40" stroke="#4a4a66" stroke-width="3.5" stroke-linecap="round"/><line x1="1.11" y1="-4.46" x2="2.40" y2="-9.61" stroke="#f6f600" stroke-width="2.2" stroke-linecap="round"/><line x1="4.06" y1="-2.16" x2="8.74" y2="-4.65" stroke="#f6f600" stroke-width="2.2" stroke-linecap="round"/><line x1="4.48" y1="1.03" x2="9.65" y2="2.23" stroke="#f6f600" stroke-width="2.2" stroke-linecap="round"/><line x1="2.30" y1="3.98" x2="4.95" y2="8.57" stroke="#f6f600" stroke-width="2.2" stroke-linecap="round"/><line x1="-1.03" y1="4.48" x2="-2.23" y2="9.65" stroke="#f6f600" stroke-width="2.2" stroke-linecap="round"/><line x1="-4.02" y1="2.23" x2="-8.66" y2="4.80" stroke="#f6f600" stroke-width="2.2" stroke-linecap="round"/><line x1="-4.42" y1="-1.27" x2="-9.52" y2="-2.73" stroke="#f6f600" stroke-width="2.2" stroke-linecap="round"/><line x1="-2.44" y1="-3.90" x2="-5.25" y2="-8.40" stroke="#f6f600" stroke-width="2.2" stroke-linecap="round"/><circle r="5.00" fill="#ffee00" stroke="#f39a1a" stroke-width="1.1"/><circle r="3.90" fill="#ffff10"/></g>
<text x="591.78" y="131.90" font-size="19.5" fill="#d6223f" textLength="22.91" lengthAdjust="spacingAndGlyphs" stroke="#d6223f" stroke-width="0.12">18</text>
<text x="614.59" y="120.70" font-size="10.6" fill="#d6223f" textLength="6.42" lengthAdjust="spacingAndGlyphs" stroke="#d6223f" stroke-width="0.2">o</text>
<text x="591.78" y="162.00" font-size="19.5" fill="#3aa7ea" textLength="22.91" lengthAdjust="spacingAndGlyphs" stroke="#3aa7ea" stroke-width="0.12">10</text>
<text x="614.59" y="150.80" font-size="10.6" fill="#3aa7ea" textLength="6.42" lengthAdjust="spacingAndGlyphs" stroke="#3aa7ea" stroke-width="0.2">o</text>
<text x="658.50" y="47.80" font-size="15.5" fill="#b3125a" text-anchor="middle" textLength="33.14" lengthAdjust="spacingAndGlyphs" stroke="#b3125a" stroke-width="0.15">Ned</text>
<text x="658.50" y="59.80" font-size="12.2" fill="#b3125a" text-anchor="middle" textLength="32.91" lengthAdjust="spacingAndGlyphs" stroke="#b3125a" stroke-width="0.24">12.10</text>
<g transform="translate(658.35,85.55)"><line x1="1.11" y1="-4.46" x2="2.40" y2="-9.61" stroke="#4a4a66" stroke-width="3.5" stroke-linecap="round"/><line x1="4.06" y1="-2.16" x2="8.74" y2="-4.65" stroke="#4a4a66" stroke-width="3.5" stroke-linecap="round"/><line x1="4.48" y1="1.03" x2="9.65" y2="2.23" stroke="#4a4a66" stroke-width="3.5" stroke-linecap="round"/><line x1="2.30" y1="3.98" x2="4.95" y2="8.57" stroke="#4a4a66" stroke-width="3.5" stroke-linecap="round"/><line x1="-1.03" y1="4.48" x2="-2.23" y2="9.65" stroke="#4a4a66" stroke-width="3.5" stroke-linecap="round"/><line x1="-4.02" y1="2.23" x2="-8.66" y2="4.80" stroke="#4a4a66" stroke-width="3.5" stroke-linecap="round"/><line x1="-4.42" y1="-1.27" x2="-9.52" y2="-2.73" stroke="#4a4a66" stroke-width="3.5" stroke-linecap="round"/><line x1="-2.44" y1="-3.90" x2="-5.25" y2="-8.40" stroke="#4a4a66" stroke-width="3.5" stroke-linecap="round"/><line x1="1.11" y1="-4.46" x2="2.40" y2="-9.61" stroke="#f6f600" stroke-width="2.2" stroke-linecap="round"/><line x1="4.06" y1="-2.16" x2="8.74" y2="-4.65" stroke="#f6f600" stroke-width="2.2" stroke-linecap="round"/><line x1="4.48" y1="1.03" x2="9.65" y2="2.23" stroke="#f6f600" stroke-width="2.2" stroke-linecap="round"/><line x1="2.30" y1="3.98" x2="4.95" y2="8.57" stroke="#f6f600" stroke-width="2.2" stroke-linecap="round"/><line x1="-1.03" y1="4.48" x2="-2.23" y2="9.65" stroke="#f6f600" stroke-width="2.2" stroke-linecap="round"/><line x1="-4.02" y1="2.23" x2="-8.66" y2="4.80" stroke="#f6f600" stroke-width="2.2" stroke-linecap="round"/><line x1="-4.42" y1="-1.27" x2="-9.52" y2="-2.73" stroke="#f6f600" stroke-width="2.2" stroke-linecap="round"/><line x1="-2.44" y1="-3.90" x2="-5.25" y2="-8.40" stroke="#f6f600" stroke-width="2.2" stroke-linecap="round"/><circle r="5.00" fill="#ffee00" stroke="#f39a1a" stroke-width="1.1"/><circle r="3.90" fill="#ffff10"/></g>
<text x="643.78" y="131.90" font-size="19.5" fill="#d6223f" textLength="22.91" lengthAdjust="spacingAndGlyphs" stroke="#d6223f" stroke-width="0.12">18</text>
<text x="666.59" y="120.70" font-size="10.6" fill="#d6223f" textLength="6.42" lengthAdjust="spacingAndGlyphs" stroke="#d6223f" stroke-width="0.2">o</text>
<text x="649.51" y="162.00" font-size="19.5" fill="#3aa7ea" textLength="11.45" lengthAdjust="spacingAndGlyphs" stroke="#3aa7ea" stroke-width="0.12">9</text>
<text x="660.86" y="150.80" font-size="10.6" fill="#3aa7ea" textLength="6.42" lengthAdjust="spacingAndGlyphs" stroke="#3aa7ea" stroke-width="0.2">o</text>
<text x="710.50" y="47.80" font-size="15.5" fill="#555555" text-anchor="middle" textLength="30.08" lengthAdjust="spacingAndGlyphs" stroke="#555555" stroke-width="0.15">Pon</text>
<text x="710.50" y="59.80" font-size="12.2" fill="#555555" text-anchor="middle" textLength="32.91" lengthAdjust="spacingAndGlyphs" stroke="#555555" stroke-width="0.15">13.10</text>
<g transform="translate(710.35,85.55)"><line x1="1.11" y1="-4.46" x2="2.40" y2="-9.61" stroke="#4a4a66" stroke-width="3.5" stroke-linecap="round"/><line x1="4.06" y1="-2.16" x2="8.74" y2="-4.65" stroke="#4a4a66" stroke-width="3.5" stroke-linecap="round"/><line x1="4.48" y1="1.03" x2="9.65" y2="2.23" stroke="#4a4a66" stroke-width="3.5" stroke-linecap="round"/><line x1="2.30" y1="3.98" x2="4.95" y2="8.57" stroke="#4a4a66" stroke-width="3.5" stroke-linecap="round"/><line x1="-1.03" y1="4.48" x2="-2.23" y2="9.65" stroke="#4a4a66" stroke-width="3.5" stroke-linecap="round"/><line x1="-4.02" y1="2.23" x2="-8.66" y2="4.80" stroke="#4a4a66" stroke-width="3.5" stroke-linecap="round"/><line x1="-4.42" y1="-1.27" x2="-9.52" y2="-2.73" stroke="#4a4a66" stroke-width="3.5" stroke-linecap="round"/><line x1="-2.44" y1="-3.90" x2="-5.25" y2="-8.40" stroke="#4a4a66" stroke-width="3.5" stroke-linecap="round"/><line x1="1.11" y1="-4.46" x2="2.40" y2="-9.61" stroke="#f6f600" stroke-width="2.2" stroke-linecap="round"/><line x1="4.06" y1="-2.16" x2="8.74" y2="-4.65" stroke="#f6f600" stroke-width="2.2" stroke-linecap="round"/><line x1="4.48" y1="1.03" x2="9.65" y2="2.23" stroke="#f6f600" stroke-width="2.2" stroke-linecap="round"/><line x1="2.30" y1="3.98" x2="4.95" y2="8.57" stroke="#f6f600" stroke-width="2.2" stroke-linecap="round"/><line x1="-1.03" y1="4.48" x2="-2.23" y2="9.65" stroke="#f6f600" stroke-width="2.2" stroke-linecap="round"/><line x1="-4.02" y1="2.23" x2="-8.66" y2="4.80" stroke="#f6f600" stroke-width="2.2" stroke-linecap="round"/><line x1="-4.42" y1="-1.27" x2="-9.52" y2="-2.73" stroke="#f6f600" stroke-width="2.2" stroke-linecap="round"/><line x1="-2.44" y1="-3.90" x2="-5.25" y2="-8.40" stroke="#f6f600" stroke-width="2.2" stroke-linecap="round"/><circle r="5.00" fill="#ffee00" stroke="#f39a1a" stroke-width="1.1"/><circle r="3.90" fill="#ffff10"/></g>
<text x="695.78" y="131.90" font-size="19.5" fill="#d6223f" textLength="22.91" lengthAdjust="spacingAndGlyphs" stroke="#d6223f" stroke-width="0.12">19</text>
<text x="718.59" y="120.70" font-size="10.6" fill="#d6223f" textLength="6.42" lengthAdjust="spacingAndGlyphs" stroke="#d6223f" stroke-width="0.2">o</text>
<text x="695.78" y="162.00" font-size="19.5" fill="#3aa7ea" textLength="22.91" lengthAdjust="spacingAndGlyphs" stroke="#3aa7ea" stroke-width="0.12">10</text>
<text x="718.59" y="150.80" font-size="10.6" fill="#3aa7ea" textLength="6.42" lengthAdjust="spacingAndGlyphs" stroke="#3aa7ea" stroke-width="0.2">o</text>
<text x="310.00" y="234.00" font-size="14.4" fill="#555555" textLength="98.86" lengthAdjust="spacingAndGlyphs">Temperatura (</text>
<text x="409.16" y="226.00" font-size="8.0" fill="#555555" textLength="4.59" lengthAdjust="spacingAndGlyphs">o</text>
<text x="414.65" y="234.00" font-size="14.4" fill="#555555" textLength="15.78" lengthAdjust="spacingAndGlyphs">C)</text>
<polygon points="34.50,290.73 86.50,291.28 138.50,300.21 190.50,293.66 242.50,274.30 294.50,274.30 346.50,261.28 398.50,254.80 450.50,247.98 502.50,256.16 554.50,248.66 606.50,252.75 658.50,253.78 710.50,245.25 710.50,289.57 658.50,295.03 606.50,295.71 554.50,286.50 502.50,292.30 450.50,287.39 398.50,293.39 346.50,300.21 294.50,327.62 242.50,301.37 190.50,308.80 138.50,315.69 86.50,311.80 34.50,311.80" fill="#e0f7a0" style="mix-blend-mode:multiply"/>
<mask id="nb" maskUnits="userSpaceOnUse" x="0" y="0" width="740" height="600"><rect width="740" height="600" fill="#fff"/><polygon points="34.50,318.00 86.50,324.62 138.50,334.37 190.50,354.89 242.50,355.78 294.50,309.07 346.50,322.50 398.50,329.94 450.50,309.07 502.50,304.57 554.50,310.30 606.50,307.30 658.50,315.14 710.50,306.07 710.50,350.94 658.50,355.78 606.50,350.39 554.50,347.53 502.50,340.03 450.50,347.80 398.50,368.66 346.50,362.53 294.50,362.60 242.50,383.39 190.50,370.71 138.50,349.78 86.50,345.41 34.50,339.41" fill="#000" stroke="#000" stroke-width="1"/></mask>
<g mask="url(#nb)" style="mix-blend-mode:multiply"><polyline points="34.50,290.73 86.50,291.28 138.50,300.21 190.50,293.66 242.50,274.30 294.50,274.30 346.50,261.28 398.50,254.80 450.50,247.98 502.50,256.16 554.50,248.66 606.50,252.75 658.50,253.78 710.50,245.25" fill="none" stroke="#f09aa0" stroke-width="0.9"/><polyline points="34.50,311.80 86.50,311.80 138.50,315.69 190.50,308.80 242.50,301.37 294.50,327.62 346.50,300.21 398.50,293.39 450.50,287.39 502.50,292.30 554.50,286.50 606.50,295.71 658.50,295.03 710.50,289.57" fill="none" stroke="#f09aa0" stroke-width="0.9"/></g>
<polygon points="34.50,318.00 86.50,324.62 138.50,334.37 190.50,354.89 242.50,355.78 294.50,309.07 346.50,322.50 398.50,329.94 450.50,309.07 502.50,304.57 554.50,310.30 606.50,307.30 658.50,315.14 710.50,306.07 710.50,350.94 658.50,355.78 606.50,350.39 554.50,347.53 502.50,340.03 450.50,347.80 398.50,368.66 346.50,362.53 294.50,362.60 242.50,383.39 190.50,370.71 138.50,349.78 86.50,345.41 34.50,339.41" fill="#a4ecf6" style="mix-blend-mode:multiply"/>
<polyline points="34.50,318.00 86.50,324.62 138.50,334.37 190.50,354.89 242.50,355.78 294.50,309.07 346.50,322.50 398.50,329.94 450.50,309.07 502.50,304.57 554.50,310.30 606.50,307.30 658.50,315.14 710.50,306.07" fill="none" stroke="#3aa7ea" stroke-width="1.6"/>
<polyline points="34.50,339.41 86.50,345.41 138.50,349.78 190.50,370.71 242.50,383.39 294.50,362.60 346.50,362.53 398.50,368.66 450.50,347.80 502.50,340.03 554.50,347.53 606.50,350.39 658.50,355.78 710.50,350.94" fill="none" stroke="#3aa7ea" stroke-width="1.6"/>
<polyline points="34.50,301.16 86.50,301.16 138.50,307.98 190.50,301.16 242.50,287.53 294.50,301.16 346.50,280.71 398.50,273.89 450.50,267.07 502.50,273.89 554.50,267.07 606.50,273.89 658.50,273.89 710.50,267.07" fill="none" stroke="#dd1c3e" stroke-width="4.8"/>
<polyline points="34.50,301.16 86.50,301.16 138.50,307.98 190.50,301.16 242.50,287.53 294.50,301.16 346.50,280.71 398.50,273.89 450.50,267.07 502.50,273.89 554.50,267.07 606.50,273.89 658.50,273.89 710.50,267.07" fill="none" stroke="#b23a58" stroke-width="1.1"/>
<polyline points="34.50,328.44 86.50,335.25 138.50,342.07 190.50,362.53 242.50,369.35 294.50,335.25 346.50,342.07 398.50,348.89 450.50,328.44 502.50,321.62 554.50,328.44 606.50,328.44 658.50,335.25 710.50,328.44" fill="none" stroke="#3aa7ea" stroke-width="5"/>
<g style="mix-blend-mode:multiply"><line x1="34.5" y1="362.5" x2="710.5" y2="362.5" stroke="#cfcfcf"/><line x1="34.5" y1="328.5" x2="710.5" y2="328.5" stroke="#cfcfcf"/><line x1="34.5" y1="294.5" x2="710.5" y2="294.5" stroke="#cfcfcf"/><line x1="34.5" y1="260.5" x2="710.5" y2="260.5" stroke="#cfcfcf"/><line x1="138.5" y1="239.5" x2="138.5" y2="389.5" stroke="#cfcfcf"/><line x1="242.5" y1="239.5" x2="242.5" y2="389.5" stroke="#cfcfcf"/><line x1="346.5" y1="239.5" x2="346.5" y2="389.5" stroke="#cfcfcf"/><line x1="450.5" y1="239.5" x2="450.5" y2="389.5" stroke="#cfcfcf"/><line x1="554.5" y1="239.5" x2="554.5" y2="389.5" stroke="#cfcfcf"/><line x1="658.5" y1="239.5" x2="658.5" y2="389.5" stroke="#cfcfcf"/><line x1="86.5" y1="239.5" x2="86.5" y2="243.5" stroke="#cfcfcf"/><line x1="86.5" y1="389.5" x2="86.5" y2="385.5" stroke="#cfcfcf"/><line x1="190.5" y1="239.5" x2="190.5" y2="243.5" stroke="#cfcfcf"/><line x1="190.5" y1="389.5" x2="190.5" y2="385.5" stroke="#cfcfcf"/><line x1="294.5" y1="239.5" x2="294.5" y2="243.5" stroke="#cfcfcf"/><line x1="294.5" y1="389.5" x2="294.5" y2="385.5" stroke="#cfcfcf"/><line x1="398.5" y1="239.5" x2="398.5" y2="243.5" stroke="#cfcfcf"/><line x1="398.5" y1="389.5" x2="398.5" y2="385.5" stroke="#cfcfcf"/><line x1="502.5" y1="239.5" x2="502.5" y2="243.5" stroke="#cfcfcf"/><line x1="502.5" y1="389.5" x2="502.5" y2="385.5" stroke="#cfcfcf"/><line x1="606.5" y1="239.5" x2="606.5" y2="243.5" stroke="#cfcfcf"/><line x1="606.5" y1="389.5" x2="606.5" y2="385.5" stroke="#cfcfcf"/><line x1="710.5" y1="239.5" x2="710.5" y2="243.5" stroke="#cfcfcf"/><line x1="710.5" y1="389.5" x2="710.5" y2="385.5" stroke="#cfcfcf"/><line x1="34.5" y1="382.5" x2="45.0" y2="382.5" stroke="#cfcfcf"/><line x1="700.0" y1="382.5" x2="710.5" y2="382.5" stroke="#cfcfcf"/><line x1="34.5" y1="376.5" x2="45.0" y2="376.5" stroke="#cfcfcf"/><line x1="700.0" y1="376.5" x2="710.5" y2="376.5" stroke="#cfcfcf"/><line x1="34.5" y1="369.5" x2="45.0" y2="369.5" stroke="#cfcfcf"/><line x1="700.0" y1="369.5" x2="710.5" y2="369.5" stroke="#cfcfcf"/><line x1="34.5" y1="355.5" x2="45.0" y2="355.5" stroke="#cfcfcf"/><line x1="700.0" y1="355.5" x2="710.5" y2="355.5" stroke="#cfcfcf"/><line x1="34.5" y1="348.5" x2="45.0" y2="348.5" stroke="#cfcfcf"/><line x1="700.0" y1="348.5" x2="710.5" y2="348.5" stroke="#cfcfcf"/><line x1="34.5" y1="342.5" x2="45.0" y2="342.5" stroke="#cfcfcf"/><line x1="700.0" y1="342.5" x2="710.5" y2="342.5" stroke="#cfcfcf"/><line x1="34.5" y1="335.5" x2="45.0" y2="335.5" stroke="#cfcfcf"/><line x1="700.0" y1="335.5" x2="710.5" y2="335.5" stroke="#cfcfcf"/><line x1="34.5" y1="321.5" x2="45.0" y2="321.5" stroke="#cfcfcf"/><line x1="700.0" y1="321.5" x2="710.5" y2="321.5" stroke="#cfcfcf"/><line x1="34.5" y1="314.5" x2="45.0" y2="314.5" stroke="#cfcfcf"/><line x1="700.0" y1="314.5" x2="710.5" y2="314.5" stroke="#cfcfcf"/><line x1="34.5" y1="307.5" x2="45.0" y2="307.5" stroke="#cfcfcf"/><line x1="700.0" y1="307.5" x2="710.5" y2="307.5" stroke="#cfcfcf"/><line x1="34.5" y1="301.5" x2="45.0" y2="301.5" stroke="#cfcfcf"/><line x1="700.0" y1="301.5" x2="710.5" y2="301.5" stroke="#cfcfcf"/><line x1="34.5" y1="287.5" x2="45.0" y2="287.5" stroke="#cfcfcf"/><line x1="700.0" y1="287.5" x2="710.5" y2="287.5" stroke="#cfcfcf"/><line x1="34.5" y1="280.5" x2="45.0" y2="280.5" stroke="#cfcfcf"/><line x1="700.0" y1="280.5" x2="710.5" y2="280.5" stroke="#cfcfcf"/><line x1="34.5" y1="273.5" x2="45.0" y2="273.5" stroke="#cfcfcf"/><line x1="700.0" y1="273.5" x2="710.5" y2="273.5" stroke="#cfcfcf"/><line x1="34.5" y1="267.5" x2="45.0" y2="267.5" stroke="#cfcfcf"/><line x1="700.0" y1="267.5" x2="710.5" y2="267.5" stroke="#cfcfcf"/><line x1="34.5" y1="253.5" x2="45.0" y2="253.5" stroke="#cfcfcf"/><line x1="700.0" y1="253.5" x2="710.5" y2="253.5" stroke="#cfcfcf"/><line x1="34.5" y1="246.5" x2="45.0" y2="246.5" stroke="#cfcfcf"/><line x1="700.0" y1="246.5" x2="710.5" y2="246.5" stroke="#cfcfcf"/><rect x="34.5" y="239.5" width="676.0" height="150.0" fill="none" stroke="#c4c4c4"/></g>
<text x="559.60" y="252.20" font-size="13" fill="#0000ff" textLength="53.8" lengthAdjust="spacingAndGlyphs">vreme.us</text>
<text x="29.40" y="368.30" font-size="13.2" fill="#555555" text-anchor="end" textLength="7.95" lengthAdjust="spacingAndGlyphs">5</text>
<text x="29.40" y="334.30" font-size="13.2" fill="#555555" text-anchor="end" textLength="15.91" lengthAdjust="spacingAndGlyphs">10</text>
<text x="29.40" y="300.30" font-size="13.2" fill="#555555" text-anchor="end" textLength="15.91" lengthAdjust="spacingAndGlyphs">15</text>
<text x="29.40" y="266.30" font-size="13.2" fill="#555555" text-anchor="end" textLength="15.91" lengthAdjust="spacingAndGlyphs">20</text>
<text x="229.80" y="421.00" font-size="14.4" fill="#555555" textLength="279.98" lengthAdjust="spacingAndGlyphs">Padavine (mm) / Verjetnost padavin (%)</text>
<text x="34.50" y="442.20" font-size="14.6" fill="#555555" text-anchor="middle" textLength="22.51" lengthAdjust="spacingAndGlyphs">Tor</text>
<text x="86.50" y="442.20" font-size="14.6" fill="#555555" text-anchor="middle" textLength="25.21" lengthAdjust="spacingAndGlyphs">Sre</text>
<text x="138.50" y="442.20" font-size="14.6" fill="#555555" text-anchor="middle" textLength="26.22" lengthAdjust="spacingAndGlyphs">Čet</text>
<text x="190.50" y="442.20" font-size="14.6" fill="#555555" text-anchor="middle" textLength="24.21" lengthAdjust="spacingAndGlyphs">Pet</text>
<text x="242.50" y="442.20" font-size="14.6" fill="#b3125a" text-anchor="middle" textLength="28.92" lengthAdjust="spacingAndGlyphs">Sob</text>
<text x="294.50" y="442.20" font-size="14.6" fill="#b3125a" text-anchor="middle" textLength="30.71" lengthAdjust="spacingAndGlyphs">Ned</text>
<text x="346.50" y="442.20" font-size="14.6" fill="#555555" text-anchor="middle" textLength="27.87" lengthAdjust="spacingAndGlyphs">Pon</text>
<text x="398.50" y="442.20" font-size="14.6" fill="#555555" text-anchor="middle" textLength="22.51" lengthAdjust="spacingAndGlyphs">Tor</text>
<text x="450.50" y="442.20" font-size="14.6" fill="#555555" text-anchor="middle" textLength="25.21" lengthAdjust="spacingAndGlyphs">Sre</text>
<text x="502.50" y="442.20" font-size="14.6" fill="#555555" text-anchor="middle" textLength="26.22" lengthAdjust="spacingAndGlyphs">Čet</text>
<text x="554.50" y="442.20" font-size="14.6" fill="#555555" text-anchor="middle" textLength="24.21" lengthAdjust="spacingAndGlyphs">Pet</text>
<text x="606.50" y="442.20" font-size="14.6" fill="#b3125a" text-anchor="middle" textLength="28.92" lengthAdjust="spacingAndGlyphs">Sob</text>
<text x="658.50" y="442.20" font-size="14.6" fill="#b3125a" text-anchor="middle" textLength="30.71" lengthAdjust="spacingAndGlyphs">Ned</text>
<text x="710.50" y="442.20" font-size="14.6" fill="#555555" text-anchor="middle" textLength="27.87" lengthAdjust="spacingAndGlyphs">Pon</text>
<g style="mix-blend-mode:multiply"><line x1="34.5" y1="555.5" x2="710.5" y2="555.5" stroke="#cfcfcf"/><line x1="34.5" y1="529.5" x2="710.5" y2="529.5" stroke="#cfcfcf"/><line x1="34.5" y1="502.5" x2="710.5" y2="502.5" stroke="#cfcfcf"/><line x1="34.5" y1="476.5" x2="710.5" y2="476.5" stroke="#cfcfcf"/><line x1="138.5" y1="449.5" x2="138.5" y2="581.5" stroke="#cfcfcf"/><line x1="242.5" y1="449.5" x2="242.5" y2="581.5" stroke="#cfcfcf"/><line x1="346.5" y1="449.5" x2="346.5" y2="581.5" stroke="#cfcfcf"/><line x1="450.5" y1="449.5" x2="450.5" y2="581.5" stroke="#cfcfcf"/><line x1="554.5" y1="449.5" x2="554.5" y2="581.5" stroke="#cfcfcf"/><line x1="658.5" y1="449.5" x2="658.5" y2="581.5" stroke="#cfcfcf"/><line x1="34.5" y1="576.5" x2="45.0" y2="576.5" stroke="#cfcfcf"/><line x1="700.0" y1="576.5" x2="710.5" y2="576.5" stroke="#cfcfcf"/><line x1="34.5" y1="571.5" x2="45.0" y2="571.5" stroke="#cfcfcf"/><line x1="700.0" y1="571.5" x2="710.5" y2="571.5" stroke="#cfcfcf"/><line x1="34.5" y1="566.5" x2="45.0" y2="566.5" stroke="#cfcfcf"/><line x1="700.0" y1="566.5" x2="710.5" y2="566.5" stroke="#cfcfcf"/><line x1="34.5" y1="560.5" x2="45.0" y2="560.5" stroke="#cfcfcf"/><line x1="700.0" y1="560.5" x2="710.5" y2="560.5" stroke="#cfcfcf"/><line x1="34.5" y1="550.5" x2="45.0" y2="550.5" stroke="#cfcfcf"/><line x1="700.0" y1="550.5" x2="710.5" y2="550.5" stroke="#cfcfcf"/><line x1="34.5" y1="544.5" x2="45.0" y2="544.5" stroke="#cfcfcf"/><line x1="700.0" y1="544.5" x2="710.5" y2="544.5" stroke="#cfcfcf"/><line x1="34.5" y1="539.5" x2="45.0" y2="539.5" stroke="#cfcfcf"/><line x1="700.0" y1="539.5" x2="710.5" y2="539.5" stroke="#cfcfcf"/><line x1="34.5" y1="534.5" x2="45.0" y2="534.5" stroke="#cfcfcf"/><line x1="700.0" y1="534.5" x2="710.5" y2="534.5" stroke="#cfcfcf"/><line x1="34.5" y1="523.5" x2="45.0" y2="523.5" stroke="#cfcfcf"/><line x1="700.0" y1="523.5" x2="710.5" y2="523.5" stroke="#cfcfcf"/><line x1="34.5" y1="518.5" x2="45.0" y2="518.5" stroke="#cfcfcf"/><line x1="700.0" y1="518.5" x2="710.5" y2="518.5" stroke="#cfcfcf"/><line x1="34.5" y1="513.5" x2="45.0" y2="513.5" stroke="#cfcfcf"/><line x1="700.0" y1="513.5" x2="710.5" y2="513.5" stroke="#cfcfcf"/><line x1="34.5" y1="507.5" x2="45.0" y2="507.5" stroke="#cfcfcf"/><line x1="700.0" y1="507.5" x2="710.5" y2="507.5" stroke="#cfcfcf"/><line x1="34.5" y1="497.5" x2="45.0" y2="497.5" stroke="#cfcfcf"/><line x1="700.0" y1="497.5" x2="710.5" y2="497.5" stroke="#cfcfcf"/><line x1="34.5" y1="492.5" x2="45.0" y2="492.5" stroke="#cfcfcf"/><line x1="700.0" y1="492.5" x2="710.5" y2="492.5" stroke="#cfcfcf"/><line x1="34.5" y1="486.5" x2="45.0" y2="486.5" stroke="#cfcfcf"/><line x1="700.0" y1="486.5" x2="710.5" y2="486.5" stroke="#cfcfcf"/><line x1="34.5" y1="481.5" x2="45.0" y2="481.5" stroke="#cfcfcf"/><line x1="700.0" y1="481.5" x2="710.5" y2="481.5" stroke="#cfcfcf"/><line x1="34.5" y1="470.5" x2="45.0" y2="470.5" stroke="#cfcfcf"/><line x1="700.0" y1="470.5" x2="710.5" y2="470.5" stroke="#cfcfcf"/><line x1="34.5" y1="465.5" x2="45.0" y2="465.5" stroke="#cfcfcf"/><line x1="700.0" y1="465.5" x2="710.5" y2="465.5" stroke="#cfcfcf"/><line x1="34.5" y1="460.5" x2="45.0" y2="460.5" stroke="#cfcfcf"/><line x1="700.0" y1="460.5" x2="710.5" y2="460.5" stroke="#cfcfcf"/><line x1="34.5" y1="455.5" x2="45.0" y2="455.5" stroke="#cfcfcf"/><line x1="700.0" y1="455.5" x2="710.5" y2="455.5" stroke="#cfcfcf"/><line x1="34.5" y1="581.5" x2="710.5" y2="581.5" stroke="#c4c4c4"/><line x1="34.5" y1="449.5" x2="34.5" y2="581.5" stroke="#c4c4c4"/><line x1="710.5" y1="449.5" x2="710.5" y2="581.5" stroke="#c4c4c4"/></g>
<line x1="86.5" y1="449.5" x2="86.5" y2="452.5" stroke="#e7a5bd"/>
<line x1="190.5" y1="449.5" x2="190.5" y2="452.5" stroke="#e7a5bd"/>
<line x1="294.5" y1="449.5" x2="294.5" y2="452.5" stroke="#e7a5bd"/>
<line x1="398.5" y1="449.5" x2="398.5" y2="452.5" stroke="#e7a5bd"/>
<line x1="502.5" y1="449.5" x2="502.5" y2="452.5" stroke="#e7a5bd"/>
<line x1="606.5" y1="449.5" x2="606.5" y2="452.5" stroke="#e7a5bd"/>
<line x1="710.5" y1="449.5" x2="710.5" y2="452.5" stroke="#e7a5bd"/>
<line x1="34.0" y1="449.5" x2="711.0" y2="449.5" stroke="#e090ae"/>
<line x1="34.5" y1="449.5" x2="34.5" y2="452.5" stroke="#e090ae"/>
<rect x="227.00" y="577.89" width="31" height="4.11" fill="#2e88e6"/><line x1="242.50" y1="581.85" x2="242.50" y2="561.79" stroke="#5a5a5a" stroke-width="2"/><line x1="227.00" y1="561.79" x2="258.00" y2="561.79" stroke="#5a5a5a" stroke-width="2"/>
<rect x="279.00" y="510.04" width="31" height="71.96" fill="#2e88e6"/><line x1="294.50" y1="570.23" x2="294.50" y2="450.11" stroke="#5a5a5a" stroke-width="2"/><line x1="279.00" y1="450.11" x2="310.00" y2="450.11" stroke="#5a5a5a" stroke-width="2"/><line x1="279.00" y1="570.23" x2="310.00" y2="570.23" stroke="#5a5a5a" stroke-width="2"/>
<text x="29.30" y="460.60" font-size="13.6" fill="#555555" text-anchor="end" textLength="16.53" lengthAdjust="spacingAndGlyphs">50</text>
<text x="715.00" y="460.60" font-size="13.6" fill="#555555" textLength="16.53" lengthAdjust="spacingAndGlyphs">50</text>
<text x="29.30" y="482.80" font-size="13.6" fill="#555555" text-anchor="end" textLength="16.53" lengthAdjust="spacingAndGlyphs">40</text>
<text x="715.00" y="482.80" font-size="13.6" fill="#555555" textLength="16.53" lengthAdjust="spacingAndGlyphs">40</text>
<text x="29.30" y="508.90" font-size="13.6" fill="#555555" text-anchor="end" textLength="16.53" lengthAdjust="spacingAndGlyphs">30</text>
<text x="715.00" y="508.90" font-size="13.6" fill="#555555" textLength="16.53" lengthAdjust="spacingAndGlyphs">30</text>
<text x="29.30" y="535.30" font-size="13.6" fill="#555555" text-anchor="end" textLength="16.53" lengthAdjust="spacingAndGlyphs">20</text>
<text x="715.00" y="535.30" font-size="13.6" fill="#555555" textLength="16.53" lengthAdjust="spacingAndGlyphs">20</text>
<text x="29.30" y="561.40" font-size="13.6" fill="#555555" text-anchor="end" textLength="16.53" lengthAdjust="spacingAndGlyphs">10</text>
<text x="715.00" y="561.40" font-size="13.6" fill="#555555" textLength="16.53" lengthAdjust="spacingAndGlyphs">10</text>
<text x="29.30" y="581.90" font-size="13.6" fill="#555555" text-anchor="end" textLength="8.27" lengthAdjust="spacingAndGlyphs">0</text>
<text x="715.00" y="581.90" font-size="13.6" fill="#555555" textLength="8.27" lengthAdjust="spacingAndGlyphs">0</text>
<text x="34.50" y="597.00" font-size="17.2" fill="#8adcf2" text-anchor="middle" textLength="36.12" lengthAdjust="spacingAndGlyphs">10%</text>
<text x="86.50" y="597.00" font-size="17.2" fill="#8adcf2" text-anchor="middle" textLength="25.78" lengthAdjust="spacingAndGlyphs">5%</text>
<text x="138.50" y="597.00" font-size="17.2" fill="#8adcf2" text-anchor="middle" textLength="36.12" lengthAdjust="spacingAndGlyphs">10%</text>
<text x="190.50" y="597.00" font-size="17.2" fill="#8adcf2" text-anchor="middle" textLength="25.78" lengthAdjust="spacingAndGlyphs">0%</text>
<text x="242.50" y="597.00" font-size="17.2" fill="#44c2f2" text-anchor="middle" textLength="36.12" lengthAdjust="spacingAndGlyphs">35%</text>
<text x="294.50" y="597.00" font-size="17.2" fill="#1530d6" text-anchor="middle" textLength="36.12" lengthAdjust="spacingAndGlyphs">75%</text>
<text x="346.50" y="597.00" font-size="17.2" fill="#44c2f2" text-anchor="middle" textLength="36.12" lengthAdjust="spacingAndGlyphs">40%</text>
<text x="398.50" y="597.00" font-size="17.2" fill="#8adcf2" text-anchor="middle" textLength="36.12" lengthAdjust="spacingAndGlyphs">20%</text>
<text x="450.50" y="597.00" font-size="17.2" fill="#8adcf2" text-anchor="middle" textLength="36.12" lengthAdjust="spacingAndGlyphs">15%</text>
<text x="502.50" y="597.00" font-size="17.2" fill="#8adcf2" text-anchor="middle" textLength="36.12" lengthAdjust="spacingAndGlyphs">15%</text>
<text x="554.50" y="597.00" font-size="17.2" fill="#8adcf2" text-anchor="middle" textLength="36.12" lengthAdjust="spacingAndGlyphs">15%</text>
<text x="606.50" y="597.00" font-size="17.2" fill="#8adcf2" text-anchor="middle" textLength="36.12" lengthAdjust="spacingAndGlyphs">15%</text>
<text x="658.50" y="597.00" font-size="17.2" fill="#8adcf2" text-anchor="middle" textLength="36.12" lengthAdjust="spacingAndGlyphs">15%</text>
<text x="710.50" y="597.00" font-size="17.2" fill="#8adcf2" text-anchor="middle" textLength="36.12" lengthAdjust="spacingAndGlyphs">10%</text>
</svg></body></html>
